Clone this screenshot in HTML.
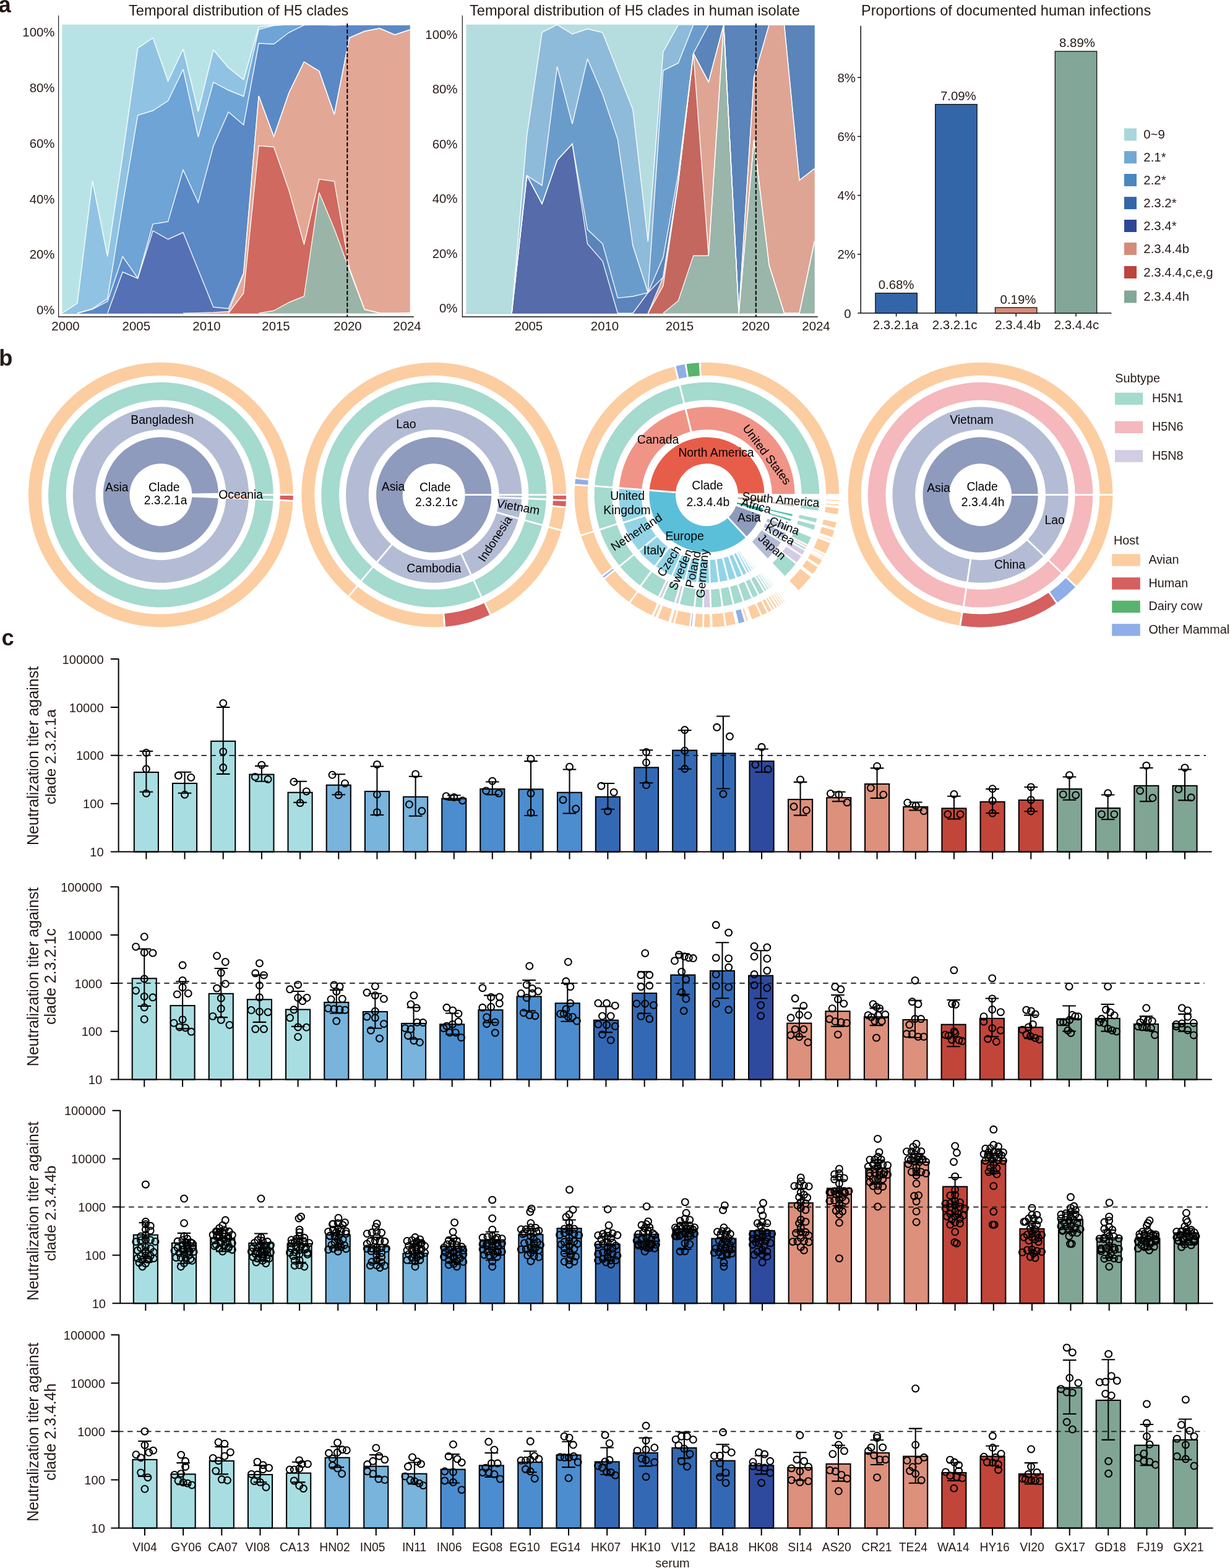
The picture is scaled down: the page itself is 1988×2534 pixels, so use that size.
<!DOCTYPE html>
<html><head><meta charset="utf-8"><title>Figure</title>
<style>
html,body{margin:0;padding:0;background:#fff}
svg{display:block}
text{font-family:"Liberation Sans",sans-serif}
</style></head><body>
<svg width="1988" height="2534" viewBox="0 0 1988 2534">
<rect width="1988" height="2534" fill="#fff"/>
<g>
<polygon points="100.5,506.25 124.94,506.25 149.37,506.25 173.81,506.25 198.24,506.25 222.68,506.25 247.11,506.25 271.54,506.25 295.98,506.25 320.41,506.25 344.85,506.25 369.28,506.25 393.72,506.25 418.15,506.25 442.59,502 467.02,488.75 491.46,478.75 515.89,311.25 540.33,370 564.76,436.25 589.2,500.5 613.63,506 638.07,506.25 662.5,505.5 662.5,506.25 638.07,506.25 613.63,506.25 589.2,506.25 564.76,506.25 540.33,506.25 515.89,506.25 491.46,506.25 467.02,506.25 442.59,506.25 418.15,506.25 393.72,506.25 369.28,506.25 344.85,506.25 320.41,506.25 295.98,506.25 271.54,506.25 247.11,506.25 222.68,506.25 198.24,506.25 173.81,506.25 149.37,506.25 124.94,506.25 100.5,506.25" fill="#9AB5A8" stroke="#9AB5A8" stroke-width="0.5"/>
<polygon points="100.5,506.25 124.94,506.25 149.37,506.25 173.81,506.25 198.24,506.25 222.68,506.25 247.11,506.25 271.54,506.25 295.98,506.25 320.41,506.25 344.85,506.25 369.28,506.25 393.72,473.75 418.15,235.5 442.59,237.5 467.02,307.5 491.46,395 515.89,289.5 540.33,293 564.76,433.5 589.2,500 613.63,505.75 638.07,506.25 662.5,505.5 662.5,505.5 638.07,506.25 613.63,506 589.2,500.5 564.76,436.25 540.33,370 515.89,311.25 491.46,478.75 467.02,488.75 442.59,502 418.15,506.25 393.72,506.25 369.28,506.25 344.85,506.25 320.41,506.25 295.98,506.25 271.54,506.25 247.11,506.25 222.68,506.25 198.24,506.25 173.81,506.25 149.37,506.25 124.94,506.25 100.5,506.25" fill="#D0695F" stroke="#D0695F" stroke-width="0.5"/>
<polygon points="100.5,506.25 124.94,506.25 149.37,506.25 173.81,506.25 198.24,506.25 222.68,506.25 247.11,506.25 271.54,506.25 295.98,506.25 320.41,505.8 344.85,505 369.28,503.5 393.72,442.5 418.15,155 442.59,220.75 467.02,150 491.46,100 515.89,115 540.33,185 564.76,61 589.2,50.5 613.63,45.75 638.07,56.25 662.5,48 662.5,505.5 638.07,506.25 613.63,505.75 589.2,500 564.76,433.5 540.33,293 515.89,289.5 491.46,395 467.02,307.5 442.59,237.5 418.15,235.5 393.72,473.75 369.28,506.25 344.85,506.25 320.41,506.25 295.98,506.25 271.54,506.25 247.11,506.25 222.68,506.25 198.24,506.25 173.81,506.25 149.37,506.25 124.94,506.25 100.5,506.25" fill="#E3A795" stroke="#E3A795" stroke-width="0.5"/>
<polygon points="100.5,506.25 124.94,506.25 149.37,506.25 173.81,506.25 198.24,439.5 222.68,450 247.11,373 271.54,386.75 295.98,375.75 320.41,436 344.85,496.25 369.28,498.75 393.72,441 418.15,155 442.59,220.75 467.02,150 491.46,100 515.89,115 540.33,185 564.76,61 589.2,50.5 613.63,45.75 638.07,56.25 662.5,48 662.5,48 638.07,56.25 613.63,45.75 589.2,50.5 564.76,61 540.33,185 515.89,115 491.46,100 467.02,150 442.59,220.75 418.15,155 393.72,442.5 369.28,503.5 344.85,505 320.41,505.8 295.98,506.25 271.54,506.25 247.11,506.25 222.68,506.25 198.24,506.25 173.81,506.25 149.37,506.25 124.94,506.25 100.5,506.25" fill="#5570B5" stroke="#5570B5" stroke-width="0.5"/>
<polygon points="100.5,506.25 124.94,506.25 149.37,499.8 173.81,487 198.24,414.5 222.68,449.3 247.11,362 271.54,358.25 295.98,274.5 320.41,327.5 344.85,236 369.28,181 393.72,202 418.15,70 442.59,71.25 467.02,52.5 491.46,40.6 515.89,40 540.33,40.8 564.76,39.9 589.2,39.9 613.63,39.9 638.07,39.9 662.5,39.9 662.5,48 638.07,56.25 613.63,45.75 589.2,50.5 564.76,61 540.33,185 515.89,115 491.46,100 467.02,150 442.59,220.75 418.15,155 393.72,441 369.28,498.75 344.85,496.25 320.41,436 295.98,375.75 271.54,386.75 247.11,373 222.68,450 198.24,439.5 173.81,506.25 149.37,506.25 124.94,506.25 100.5,506.25" fill="#5B89C6" stroke="#5B89C6" stroke-width="0.5"/>
<polygon points="100.5,506.25 124.94,506.25 149.37,498.8 173.81,482.5 198.24,331.5 222.68,186.25 247.11,178.75 271.54,163 295.98,112 320.41,221.25 344.85,133 369.28,145.75 393.72,155.75 418.15,47.5 442.59,41.25 467.02,39.9 491.46,39.9 515.89,39.9 540.33,39.9 564.76,39.9 589.2,39.9 613.63,39.9 638.07,39.9 662.5,39.9 662.5,39.9 638.07,39.9 613.63,39.9 589.2,39.9 564.76,39.9 540.33,40.8 515.89,40 491.46,40.6 467.02,52.5 442.59,71.25 418.15,70 393.72,202 369.28,181 344.85,236 320.41,327.5 295.98,274.5 271.54,358.25 247.11,362 222.68,449.3 198.24,414.5 173.81,487 149.37,499.8 124.94,506.25 100.5,506.25" fill="#6EA4D6" stroke="#6EA4D6" stroke-width="0.5"/>
<polygon points="100.5,506.25 124.94,490 149.37,292.5 173.81,414.5 198.24,251.7 222.68,78 247.11,61.25 271.54,131.25 295.98,79.25 320.41,180 344.85,80.75 369.28,109.5 393.72,128.75 418.15,43.75 442.59,40 467.02,39.9 491.46,39.9 515.89,39.9 540.33,39.9 564.76,39.9 589.2,39.9 613.63,39.9 638.07,39.9 662.5,39.9 662.5,39.9 638.07,39.9 613.63,39.9 589.2,39.9 564.76,39.9 540.33,39.9 515.89,39.9 491.46,39.9 467.02,39.9 442.59,41.25 418.15,47.5 393.72,155.75 369.28,145.75 344.85,133 320.41,221.25 295.98,112 271.54,163 247.11,178.75 222.68,186.25 198.24,331.5 173.81,482.5 149.37,498.8 124.94,506.25 100.5,506.25" fill="#90C3E3" stroke="#90C3E3" stroke-width="0.5"/>
<polygon points="100.5,39.9 124.94,39.9 149.37,39.9 173.81,39.9 198.24,39.9 222.68,39.9 247.11,39.9 271.54,39.9 295.98,39.9 320.41,39.9 344.85,39.9 369.28,39.9 393.72,39.9 418.15,39.9 442.59,39.9 467.02,39.9 491.46,39.9 515.89,39.9 540.33,39.9 564.76,39.9 589.2,39.9 613.63,39.9 638.07,39.9 662.5,39.9 662.5,39.9 638.07,39.9 613.63,39.9 589.2,39.9 564.76,39.9 540.33,39.9 515.89,39.9 491.46,39.9 467.02,39.9 442.59,40 418.15,43.75 393.72,128.75 369.28,109.5 344.85,80.75 320.41,180 295.98,79.25 271.54,131.25 247.11,61.25 222.68,78 198.24,251.7 173.81,414.5 149.37,292.5 124.94,490 100.5,506.25" fill="#B8E3E6" stroke="#B8E3E6" stroke-width="0.5"/>
</g>
<g stroke="#fff" stroke-width="1.4" stroke-opacity="0.92" stroke-linejoin="miter" stroke-miterlimit="3" fill="none">
<path d="M418.15 506.25L442.59 502L467.02 488.75L491.46 478.75L515.89 311.25L540.33 370L564.76 436.25L589.2 500.5L613.63 506L638.07 506.25L662.5 505.5"/>
<path d="M369.28 506.25L393.72 473.75L418.15 235.5L442.59 237.5L467.02 307.5L491.46 395L515.89 289.5L540.33 293L564.76 433.5L589.2 500L613.63 505.75L638.07 506.25L662.5 505.5"/>
<path d="M295.98 506.25L320.41 505.8L344.85 505L369.28 503.5L393.72 442.5L418.15 155L442.59 220.75L467.02 150L491.46 100L515.89 115L540.33 185L564.76 61L589.2 50.5L613.63 45.75L638.07 56.25L662.5 48"/>
<path d="M173.81 506.25L198.24 439.5L222.68 450L247.11 373L271.54 386.75L295.98 375.75L320.41 436L344.85 496.25L369.28 498.75L393.72 441L418.15 155L442.59 220.75L467.02 150L491.46 100L515.89 115L540.33 185L564.76 61L589.2 50.5L613.63 45.75L638.07 56.25L662.5 48"/>
<path d="M124.94 506.25L149.37 499.8L173.81 487L198.24 414.5L222.68 449.3L247.11 362L271.54 358.25L295.98 274.5L320.41 327.5L344.85 236L369.28 181L393.72 202L418.15 70L442.59 71.25L467.02 52.5L491.46 40.6L515.89 40L540.33 40.8L564.76 39.9L589.2 39.9L613.63 39.9L638.07 39.9L662.5 39.9"/>
<path d="M124.94 506.25L149.37 498.8L173.81 482.5L198.24 331.5L222.68 186.25L247.11 178.75L271.54 163L295.98 112L320.41 221.25L344.85 133L369.28 145.75L393.72 155.75L418.15 47.5L442.59 41.25L467.02 39.9L491.46 39.9L515.89 39.9L540.33 39.9L564.76 39.9L589.2 39.9L613.63 39.9L638.07 39.9L662.5 39.9"/>
<path d="M100.5 506.25L124.94 490L149.37 292.5L173.81 414.5L198.24 251.7L222.68 78L247.11 61.25L271.54 131.25L295.98 79.25L320.41 180L344.85 80.75L369.28 109.5L393.72 128.75L418.15 43.75L442.59 40L467.02 39.9L491.46 39.9L515.89 39.9L540.33 39.9L564.76 39.9L589.2 39.9L613.63 39.9L638.07 39.9L662.5 39.9"/>
</g>
<g>
<polygon points="753.7,506.25 778.17,506.25 802.64,506.25 827.11,506.25 851.58,506.25 876.05,506.25 900.52,506.25 924.99,506.25 949.46,506.25 973.93,506.25 998.4,506.25 1022.87,506.25 1047.34,506.25 1071.81,506.25 1096.28,486 1120.75,413.3 1145.22,413.3 1169.69,39.9 1194.16,506.25 1218.63,226.25 1243.1,428.75 1267.57,506.25 1292.04,506.25 1316.51,390 1316.51,506.25 1292.04,506.25 1267.57,506.25 1243.1,506.25 1218.63,506.25 1194.16,506.25 1169.69,506.25 1145.22,506.25 1120.75,506.25 1096.28,506.25 1071.81,506.25 1047.34,506.25 1022.87,506.25 998.4,506.25 973.93,506.25 949.46,506.25 924.99,506.25 900.52,506.25 876.05,506.25 851.58,506.25 827.11,506.25 802.64,506.25 778.17,506.25 753.7,506.25" fill="#9AB5A9" stroke="#9AB5A9" stroke-width="0.5"/>
<polygon points="753.7,506.25 778.17,506.25 802.64,506.25 827.11,506.25 851.58,506.25 876.05,506.25 900.52,506.25 924.99,506.25 949.46,506.25 973.93,506.25 998.4,506.25 1022.87,506.25 1047.34,506.25 1071.81,462 1096.28,296 1120.75,86.2 1145.22,413.3 1169.69,39.9 1194.16,506.25 1218.63,226.25 1243.1,428.75 1267.57,506.25 1292.04,506.25 1316.51,390 1316.51,390 1292.04,506.25 1267.57,506.25 1243.1,428.75 1218.63,226.25 1194.16,506.25 1169.69,39.9 1145.22,413.3 1120.75,413.3 1096.28,486 1071.81,506.25 1047.34,506.25 1022.87,506.25 998.4,506.25 973.93,506.25 949.46,506.25 924.99,506.25 900.52,506.25 876.05,506.25 851.58,506.25 827.11,506.25 802.64,506.25 778.17,506.25 753.7,506.25" fill="#C4675F" stroke="#C4675F" stroke-width="0.5"/>
<polygon points="753.7,506.25 778.17,506.25 802.64,506.25 827.11,506.25 851.58,506.25 876.05,506.25 900.52,506.25 924.99,506.25 949.46,506.25 973.93,506.25 998.4,506.25 1022.87,506.25 1047.34,506.25 1071.81,448 1096.28,294 1120.75,86.2 1145.22,132.5 1169.69,39.9 1194.16,506.25 1218.63,125 1243.1,39.9 1267.57,39.9 1292.04,291.25 1316.51,272.5 1316.51,390 1292.04,506.25 1267.57,506.25 1243.1,428.75 1218.63,226.25 1194.16,506.25 1169.69,39.9 1145.22,413.3 1120.75,86.2 1096.28,296 1071.81,462 1047.34,506.25 1022.87,506.25 998.4,506.25 973.93,506.25 949.46,506.25 924.99,506.25 900.52,506.25 876.05,506.25 851.58,506.25 827.11,506.25 802.64,506.25 778.17,506.25 753.7,506.25" fill="#DEA594" stroke="#DEA594" stroke-width="0.5"/>
<polygon points="753.7,506.25 778.17,506.25 802.64,506.25 827.11,506.25 851.58,283.6 876.05,329.5 900.52,259 924.99,232.6 949.46,394 973.93,422 998.4,506.25 1022.87,506.25 1047.34,473 1071.81,448 1096.28,293 1120.75,86.2 1145.22,132.5 1169.69,39.9 1194.16,506.25 1218.63,125 1243.1,39.9 1267.57,39.9 1292.04,291.25 1316.51,272.5 1316.51,272.5 1292.04,291.25 1267.57,39.9 1243.1,39.9 1218.63,125 1194.16,506.25 1169.69,39.9 1145.22,132.5 1120.75,86.2 1096.28,294 1071.81,448 1047.34,506.25 1022.87,506.25 998.4,506.25 973.93,506.25 949.46,506.25 924.99,506.25 900.52,506.25 876.05,506.25 851.58,506.25 827.11,506.25 802.64,506.25 778.17,506.25 753.7,506.25" fill="#566BAA" stroke="#566BAA" stroke-width="0.5"/>
<polygon points="753.7,506.25 778.17,506.25 802.64,506.25 827.11,506.25 851.58,283.6 876.05,329.5 900.52,259 924.99,232.6 949.46,370.8 973.93,394 998.4,481.6 1022.87,479 1047.34,473 1071.81,416 1096.28,281 1120.75,86.2 1145.22,39.9 1169.69,39.9 1194.16,39.9 1218.63,39.9 1243.1,39.9 1267.57,39.9 1292.04,39.9 1316.51,39.9 1316.51,272.5 1292.04,291.25 1267.57,39.9 1243.1,39.9 1218.63,125 1194.16,506.25 1169.69,39.9 1145.22,132.5 1120.75,86.2 1096.28,293 1071.81,448 1047.34,473 1022.87,506.25 998.4,506.25 973.93,422 949.46,394 924.99,232.6 900.52,259 876.05,329.5 851.58,283.6 827.11,506.25 802.64,506.25 778.17,506.25 753.7,506.25" fill="#5A84BA" stroke="#5A84BA" stroke-width="0.5"/>
<polygon points="753.7,506.25 778.17,506.25 802.64,506.25 827.11,506.25 851.58,283.6 876.05,299.7 900.52,107.5 924.99,200.4 949.46,95 973.93,152.5 998.4,225.3 1022.87,397 1047.34,473 1071.81,114 1096.28,102 1120.75,39.9 1145.22,39.9 1169.69,39.9 1194.16,39.9 1218.63,39.9 1243.1,39.9 1267.57,39.9 1292.04,39.9 1316.51,39.9 1316.51,39.9 1292.04,39.9 1267.57,39.9 1243.1,39.9 1218.63,39.9 1194.16,39.9 1169.69,39.9 1145.22,39.9 1120.75,86.2 1096.28,281 1071.81,416 1047.34,473 1022.87,479 998.4,481.6 973.93,394 949.46,370.8 924.99,232.6 900.52,259 876.05,329.5 851.58,283.6 827.11,506.25 802.64,506.25 778.17,506.25 753.7,506.25" fill="#6A9CCB" stroke="#6A9CCB" stroke-width="0.5"/>
<polygon points="753.7,506.25 778.17,506.25 802.64,506.25 827.11,506.25 851.58,219.5 876.05,52.5 900.52,39.9 924.99,55 949.46,46.75 973.93,52.5 998.4,115 1022.87,177 1047.34,390.5 1071.81,84 1096.28,39.9 1120.75,39.9 1145.22,39.9 1169.69,39.9 1194.16,39.9 1218.63,39.9 1243.1,39.9 1267.57,39.9 1292.04,39.9 1316.51,39.9 1316.51,39.9 1292.04,39.9 1267.57,39.9 1243.1,39.9 1218.63,39.9 1194.16,39.9 1169.69,39.9 1145.22,39.9 1120.75,39.9 1096.28,102 1071.81,114 1047.34,473 1022.87,397 998.4,225.3 973.93,152.5 949.46,95 924.99,200.4 900.52,107.5 876.05,299.7 851.58,283.6 827.11,506.25 802.64,506.25 778.17,506.25 753.7,506.25" fill="#8FBBDA" stroke="#8FBBDA" stroke-width="0.5"/>
<polygon points="753.7,39.9 778.17,39.9 802.64,39.9 827.11,39.9 851.58,39.9 876.05,39.9 900.52,39.9 924.99,39.9 949.46,39.9 973.93,39.9 998.4,39.9 1022.87,39.9 1047.34,39.9 1071.81,39.9 1096.28,39.9 1120.75,39.9 1145.22,39.9 1169.69,39.9 1194.16,39.9 1218.63,39.9 1243.1,39.9 1267.57,39.9 1292.04,39.9 1316.51,39.9 1316.51,39.9 1292.04,39.9 1267.57,39.9 1243.1,39.9 1218.63,39.9 1194.16,39.9 1169.69,39.9 1145.22,39.9 1120.75,39.9 1096.28,39.9 1071.81,84 1047.34,390.5 1022.87,177 998.4,115 973.93,52.5 949.46,46.75 924.99,55 900.52,39.9 876.05,52.5 851.58,219.5 827.11,506.25 802.64,506.25 778.17,506.25 753.7,506.25" fill="#B5DDE0" stroke="#B5DDE0" stroke-width="0.5"/>
</g>
<g stroke="#fff" stroke-width="1.4" stroke-opacity="0.92" stroke-linejoin="miter" stroke-miterlimit="3" fill="none">
<path d="M1071.81 506.25L1096.28 486L1120.75 413.3L1145.22 413.3L1169.69 39.9L1194.16 506.25L1218.63 226.25L1243.1 428.75L1267.57 506.25L1292.04 506.25L1316.51 390"/>
<path d="M1047.34 506.25L1071.81 462L1096.28 296L1120.75 86.2L1145.22 413.3L1169.69 39.9L1194.16 506.25L1218.63 226.25L1243.1 428.75L1267.57 506.25L1292.04 506.25L1316.51 390"/>
<path d="M1047.34 506.25L1071.81 448L1096.28 294L1120.75 86.2L1145.22 132.5L1169.69 39.9L1194.16 506.25L1218.63 125L1243.1 39.9L1267.57 39.9L1292.04 291.25L1316.51 272.5"/>
<path d="M827.11 506.25L851.58 283.6L876.05 329.5L900.52 259L924.99 232.6L949.46 394L973.93 422L998.4 506.25L1022.87 506.25L1047.34 473L1071.81 448L1096.28 293L1120.75 86.2L1145.22 132.5L1169.69 39.9L1194.16 506.25L1218.63 125L1243.1 39.9L1267.57 39.9L1292.04 291.25L1316.51 272.5"/>
<path d="M827.11 506.25L851.58 283.6L876.05 329.5L900.52 259L924.99 232.6L949.46 370.8L973.93 394L998.4 481.6L1022.87 479L1047.34 473L1071.81 416L1096.28 281L1120.75 86.2L1145.22 39.9L1169.69 39.9L1194.16 39.9L1218.63 39.9L1243.1 39.9L1267.57 39.9L1292.04 39.9L1316.51 39.9"/>
<path d="M827.11 506.25L851.58 283.6L876.05 299.7L900.52 107.5L924.99 200.4L949.46 95L973.93 152.5L998.4 225.3L1022.87 397L1047.34 473L1071.81 114L1096.28 102L1120.75 39.9L1145.22 39.9L1169.69 39.9L1194.16 39.9L1218.63 39.9L1243.1 39.9L1267.57 39.9L1292.04 39.9L1316.51 39.9"/>
<path d="M827.11 506.25L851.58 219.5L876.05 52.5L900.52 39.9L924.99 55L949.46 46.75L973.93 52.5L998.4 115L1022.87 177L1047.34 390.5L1071.81 84L1096.28 39.9L1120.75 39.9L1145.22 39.9L1169.69 39.9L1194.16 39.9L1218.63 39.9L1243.1 39.9L1267.57 39.9L1292.04 39.9L1316.51 39.9"/>
</g>
<path d="M94.6 25V512M747.3 25V512" stroke="#222" stroke-width="1.25" fill="none"/>
<path d="M94 512H668.8M746.7 512H1321.8" stroke="#111" stroke-width="1.7" fill="none"/>
<path d="M561.3 38V512" stroke="#000" stroke-width="2" stroke-dasharray="6.6 3" fill="none"/>
<path d="M1221.8 38V512" stroke="#000" stroke-width="2" stroke-dasharray="6.6 3" fill="none"/>
<g font-size="20.4" fill="#231815" text-anchor="end"><text x="88.5" y="508.2">0%</text><text x="739.5" y="505.3">0%</text><text x="88.5" y="418.44">20%</text><text x="739.5" y="416.75">20%</text><text x="88.5" y="328.68">40%</text><text x="739.5" y="328.2">40%</text><text x="88.5" y="238.92">60%</text><text x="739.5" y="239.65">60%</text><text x="88.5" y="149.16">80%</text><text x="739.5" y="151.1">80%</text><text x="88.5" y="59.4">100%</text><text x="739.5" y="62.55">100%</text></g>
<g font-size="20.4" fill="#231815" text-anchor="middle"><text x="106" y="534">2000</text><text x="220.3" y="534">2005</text><text x="334" y="534">2010</text><text x="446" y="534">2015</text><text x="562" y="534">2020</text><text x="658" y="534">2024</text><text x="854.5" y="534">2005</text><text x="977.5" y="534">2010</text><text x="1098.5" y="534">2015</text><text x="1221.5" y="534">2020</text><text x="1319" y="534">2024</text></g>
<g font-size="23.6" fill="#231815">
<text x="208" y="24.6">Temporal distribution of H5 clades</text>
<text x="759" y="24.6">Temporal distribution of H5 clades in human isolate</text>
<text x="1392" y="24.6">Proportions of documented human infections</text>
</g>
<path d="M1391.2 41.7V506.1 M1386.3 506.1H1796.4" stroke="#111" stroke-width="1.5" fill="none"/>
<path d="M1386 410.9H1391.2M1386 315.7H1391.2M1386 220.5H1391.2M1386 125.3H1391.2M1448.6 506.1v5.5M1545.4 506.1v5.5M1642.2 506.1v5.5M1739 506.1v5.5" stroke="#111" stroke-width="1.5" fill="none"/>
<rect x="1414.9" y="473.73" width="67.4" height="32.37" fill="#3366A9" stroke="#111" stroke-width="1.3"/>
<rect x="1511.7" y="168.62" width="67.4" height="337.48" fill="#3366A9" stroke="#111" stroke-width="1.3"/>
<rect x="1608.5" y="497.06" width="67.4" height="9.04" fill="#D68B7A" stroke="#111" stroke-width="1.3"/>
<rect x="1705.3" y="82.94" width="67.4" height="423.16" fill="#82A697" stroke="#111" stroke-width="1.3"/>
<g font-size="20.4" fill="#231815" text-anchor="middle"><text x="1448.6" y="467.23">0.68%</text><text x="1447.6" y="532.4">2.3.2.1a</text><text x="1548.8" y="162.12">7.09%</text><text x="1543.1" y="532.4">2.3.2.1c</text><text x="1645.5" y="490.56">0.19%</text><text x="1645.2" y="532.4">2.3.4.4b</text><text x="1741" y="76.44">8.89%</text><text x="1740" y="532.4">2.3.4.4c</text></g><g font-size="20.4" fill="#231815" text-anchor="end"><text x="1375.5" y="514.3">0</text><text x="1383" y="418.2">2%</text><text x="1383" y="323">4%</text><text x="1383" y="227.8">6%</text><text x="1383" y="132.6">8%</text></g>
<g font-size="20.4" fill="#231815"><rect x="1817" y="207.4" width="20" height="20" fill="#A8D8DC"/><text x="1848.3" y="223.9">0~9</text><rect x="1817" y="244.2" width="20" height="20" fill="#72A9D3"/><text x="1848.3" y="260.7">2.1*</text><rect x="1817" y="281" width="20" height="20" fill="#4A86C0"/><text x="1848.3" y="297.5">2.2*</text><rect x="1817" y="318.1" width="20" height="20" fill="#3366A9"/><text x="1848.3" y="334.6">2.3.2*</text><rect x="1817" y="355" width="20" height="20" fill="#2E4795"/><text x="1848.3" y="371.5">2.3.4*</text><rect x="1817" y="392" width="20" height="20" fill="#D68B7A"/><text x="1848.3" y="408.5">2.3.4.4b</text><rect x="1817" y="430" width="20" height="20" fill="#BC443C"/><text x="1848.3" y="446.5">2.3.4.4,c,e,g</text><rect x="1817" y="469.5" width="20" height="20" fill="#82A697"/><text x="1848.3" y="486">2.3.4.4h</text></g>
<g font-weight="bold" font-size="36.3" fill="#231815"><text x="-2.5" y="19.6">a</text><text x="-1.8" y="590.6">b</text><text x="2.4" y="1042.7">c</text></g>
<path d="M310.27 803.39A50.5 50.5 0 1 1 310.35 797.42L352.95 796.68A93.1 93.1 0 1 0 352.83 805.32Z" fill="#8E9BBD"/>
<path d="M365.29 801.1A105.4 105.4 0 0 1 365.25 803.08L401.91 804.75A142.1 142.1 0 0 0 401.99 801.1Z" fill="#F3B9A6"/>
<path d="M365.12 805.88A105.4 105.4 0 1 1 365.29 798.3L401.99 798.3A142.1 142.1 0 1 0 401.78 807.54Z" fill="#B3BCD4"/>
<path d="M412.99 801.1A153.1 153.1 0 0 1 412.9 805.25L441.62 806.55A181.85 181.85 0 0 0 441.74 801.1Z" fill="#A5DACE"/>
<path d="M412.77 808.04A153.1 153.1 0 1 1 412.99 798.3L441.74 798.3A181.85 181.85 0 1 0 441.49 809.35Z" fill="#A5DACE"/>
<path d="M452.74 801.1A192.85 192.85 0 0 1 452.61 807.05L473.64 808A213.9 213.9 0 0 0 473.8 801.1Z" fill="#D65F5F"/>
<path d="M452.48 809.85A192.85 192.85 0 1 1 452.74 798.3L473.8 798.3A213.9 213.9 0 1 0 473.51 810.8Z" fill="#FCCDA0"/>
<path d="M751.68 801.1A50.5 50.5 0 1 1 751.68 798.3L794.29 798.3A93.1 93.1 0 1 0 794.29 801.1Z" fill="#8E9BBD"/>
<path d="M806.59 801.1A105.4 105.4 0 0 1 806.56 802.53L843.23 804A142.1 142.1 0 0 0 843.29 801.1Z" fill="#B3BCD4"/>
<path d="M806.45 805.33A105.4 105.4 0 0 1 803.08 826.69L838.44 836.56A142.1 142.1 0 0 0 843.12 806.8Z" fill="#B3BCD4"/>
<path d="M802.33 829.39A105.4 105.4 0 0 1 747.01 894.62L762.52 927.89A142.1 142.1 0 0 0 837.68 839.26Z" fill="#B3BCD4"/>
<path d="M744.47 895.81A105.4 105.4 0 0 1 634.24 881.1L610.55 909.13A142.1 142.1 0 0 0 759.98 929.07Z" fill="#B3BCD4"/>
<path d="M632.11 879.29A105.4 105.4 0 1 1 806.59 798.3L843.29 798.3A142.1 142.1 0 1 0 608.42 907.33Z" fill="#B3BCD4"/>
<path d="M854.29 801.1A153.1 153.1 0 0 1 854.23 804.45L882.95 805.6A181.85 181.85 0 0 0 883.04 801.1Z" fill="#A5DACE"/>
<path d="M854.11 807.24A153.1 153.1 0 0 1 849.03 839.52L876.72 847.25A181.85 181.85 0 0 0 882.84 808.4Z" fill="#A5DACE"/>
<path d="M848.28 842.22A153.1 153.1 0 0 1 767.17 937.86L779.32 963.92A181.85 181.85 0 0 0 875.97 849.95Z" fill="#A5DACE"/>
<path d="M764.63 939.04A153.1 153.1 0 0 1 603.45 917.54L584.9 939.5A181.85 181.85 0 0 0 776.78 965.1Z" fill="#A5DACE"/>
<path d="M601.32 915.73A153.1 153.1 0 1 1 854.29 798.3L883.04 798.3A181.85 181.85 0 1 0 582.76 937.69Z" fill="#A5DACE"/>
<path d="M894.04 801.1A192.85 192.85 0 0 1 893.93 806.38L914.97 807.26A213.9 213.9 0 0 0 915.1 801.1Z" fill="#D65F5F"/>
<path d="M893.82 809.17A192.85 192.85 0 0 1 893.32 816.45L914.28 818.44A213.9 213.9 0 0 0 914.85 810.06Z" fill="#D65F5F"/>
<path d="M893.06 819.24A192.85 192.85 0 0 1 887.32 850.21L907.59 855.87A213.9 213.9 0 0 0 914.01 821.22Z" fill="#FCCDA0"/>
<path d="M886.56 852.91A192.85 192.85 0 0 1 784.88 973.45L793.88 992.48A213.9 213.9 0 0 0 906.84 858.57Z" fill="#FCCDA0"/>
<path d="M782.35 974.65A192.85 192.85 0 0 1 718.4 991.78L720.12 1012.76A213.9 213.9 0 0 0 791.34 993.68Z" fill="#D65F5F"/>
<path d="M715.61 992.01A192.85 192.85 0 0 1 578.31 948.33L564.78 964.45A213.9 213.9 0 0 0 717.33 1012.99Z" fill="#FCCDA0"/>
<path d="M576.17 946.53A192.85 192.85 0 1 1 894.04 798.3L915.1 798.3A213.9 213.9 0 1 0 562.64 962.65Z" fill="#FCCDA0"/>
<path d="M1635.08 801.1A50.5 50.5 0 1 1 1635.08 798.3L1677.69 798.3A93.1 93.1 0 1 0 1677.69 801.1Z" fill="#8E9BBD"/>
<path d="M1689.99 801.1A105.4 105.4 0 0 1 1661.64 871.63L1688.13 897.04A142.1 142.1 0 0 0 1726.69 801.1Z" fill="#B3BCD4"/>
<path d="M1659.7 873.66A105.4 105.4 0 0 1 1570.22 904.12L1564.74 940.4A142.1 142.1 0 0 0 1686.19 899.06Z" fill="#B3BCD4"/>
<path d="M1567.46 903.7A105.4 105.4 0 1 1 1689.99 798.3L1726.69 798.3A142.1 142.1 0 1 0 1561.97 939.99Z" fill="#B3BCD4"/>
<path d="M1737.69 801.1A153.1 153.1 0 0 1 1696.07 904.65L1716.82 924.55A181.85 181.85 0 0 0 1766.44 801.1Z" fill="#F5B8BC"/>
<path d="M1694.13 906.67A153.1 153.1 0 0 1 1563.09 951.28L1558.79 979.71A181.85 181.85 0 0 0 1714.88 926.57Z" fill="#F5B8BC"/>
<path d="M1560.32 950.86A153.1 153.1 0 1 1 1737.69 798.3L1766.44 798.3A181.85 181.85 0 1 0 1556.02 979.29Z" fill="#F5B8BC"/>
<path d="M1777.44 801.1A192.85 192.85 0 0 1 1724.76 932.17L1739.95 946.74A213.9 213.9 0 0 0 1798.5 801.1Z" fill="#FCCDA0"/>
<path d="M1722.82 934.19A192.85 192.85 0 0 1 1696.91 956.48L1709.04 973.68A213.9 213.9 0 0 0 1738.01 948.76Z" fill="#8FAEE8"/>
<path d="M1694.62 958.09A192.85 192.85 0 0 1 1556.48 990.49L1553.26 1011.29A213.9 213.9 0 0 0 1706.75 975.29Z" fill="#D65F5F"/>
<path d="M1553.71 990.06A192.85 192.85 0 1 1 1777.44 798.3L1798.5 798.3A213.9 213.9 0 1 0 1550.49 1010.86Z" fill="#FCCDA0"/>
<path d="M1192.74 803.74A50.5 50.5 0 0 1 1192.54 805.69L1234.7 811.91A93.1 93.1 0 0 0 1235.29 805.97Z" fill="#B5A18C"/>
<path d="M1191.36 812.08A50.5 50.5 0 0 1 1190.84 813.97L1231.37 827.13A93.1 93.1 0 0 0 1232.94 821.37Z" fill="#1FA890"/>
<path d="M1189.52 817.87A50.5 50.5 0 0 1 1177.85 835.66L1206.91 866.83A93.1 93.1 0 0 0 1229.68 832.09Z" fill="#8E9BBD"/>
<path d="M1175.8 837.57A50.5 50.5 0 0 1 1091.97 797.05L1049.5 793.63A93.1 93.1 0 0 0 1204.86 868.74Z" fill="#5BBFD9"/>
<path d="M1092.19 794.26A50.5 50.5 0 0 1 1192.85 797.42L1235.45 796.68A93.1 93.1 0 0 0 1049.72 790.84Z" fill="#E85D4A"/>
<path d="M1247.21 810.83A105.4 105.4 0 0 1 1246.91 813.35L1283.24 818.58A142.1 142.1 0 0 0 1283.76 814.22Z" fill="#CFC3B4"/>
<path d="M1245.11 823.34A105.4 105.4 0 0 1 1244.74 824.91L1280.26 834.16A142.1 142.1 0 0 0 1280.99 831.1Z" fill="#5CC2B0"/>
<path d="M1243.58 829.21A105.4 105.4 0 0 1 1243.12 830.76L1278.05 842.04A142.1 142.1 0 0 0 1278.95 839.02Z" fill="#5CC2B0"/>
<path d="M1240.56 838.09A105.4 105.4 0 0 1 1238.66 842.64L1271.98 858.03A142.1 142.1 0 0 0 1274.92 851Z" fill="#B3BCD4"/>
<path d="M1237.08 846.01A105.4 105.4 0 0 1 1234.19 851.5L1265.91 869.97A142.1 142.1 0 0 0 1270.27 861.69Z" fill="#B3BCD4"/>
<path d="M1232.78 853.92A105.4 105.4 0 0 1 1232.33 854.68L1263.38 874.23A142.1 142.1 0 0 0 1264.5 872.39Z" fill="#B3BCD4"/>
<path d="M1230.83 857.04A105.4 105.4 0 0 1 1215.7 875.44L1240.87 902.15A142.1 142.1 0 0 0 1261.89 876.6Z" fill="#B3BCD4"/>
<path d="M1217.74 910.15L1222.4 917.14A142.1 142.1 0 0 0 1222.55 917.04Z" fill="#92D4E6"/>
<path d="M1209.71 903.15L1219.72 918.92A142.1 142.1 0 0 0 1220.07 918.69Z" fill="#92D4E6"/>
<path d="M1202.62 897.21L1216.78 920.78A142.1 142.1 0 0 0 1217.36 920.42Z" fill="#92D4E6"/>
<path d="M1195.48 890.76A105.4 105.4 0 0 1 1195.2 890.92L1213.16 922.93A142.1 142.1 0 0 0 1214.38 922.22Z" fill="#92D4E6"/>
<path d="M1192.76 892.29A105.4 105.4 0 0 1 1191.98 892.71L1208.82 925.32A142.1 142.1 0 0 0 1210.72 924.3Z" fill="#92D4E6"/>
<path d="M1189.49 893.99A105.4 105.4 0 0 1 1186.55 895.41L1201.47 928.94A142.1 142.1 0 0 0 1206.33 926.61Z" fill="#92D4E6"/>
<path d="M1183.99 896.55A105.4 105.4 0 0 1 1179.07 898.51L1191.38 933.09A142.1 142.1 0 0 0 1198.92 930.08Z" fill="#92D4E6"/>
<path d="M1176.43 899.45A105.4 105.4 0 0 1 1169.61 901.53L1178.61 937.11A142.1 142.1 0 0 0 1188.75 934.03Z" fill="#92D4E6"/>
<path d="M1166.9 902.21A105.4 105.4 0 0 1 1158.45 903.87L1163.56 940.22A142.1 142.1 0 0 0 1175.9 937.79Z" fill="#92D4E6"/>
<path d="M1155.68 904.26A105.4 105.4 0 0 1 1147.48 904.98L1148.76 941.66A142.1 142.1 0 0 0 1160.79 940.61Z" fill="#92D4E6"/>
<path d="M1144.68 905.08A105.4 105.4 0 0 1 1132.23 904.61L1128.2 941.09A142.1 142.1 0 0 0 1145.96 941.76Z" fill="#92D4E6"/>
<path d="M1129.44 904.3A105.4 105.4 0 0 1 1117.9 902.21L1108.9 937.79A142.1 142.1 0 0 0 1125.42 940.78Z" fill="#92D4E6"/>
<path d="M1115.19 901.53A105.4 105.4 0 0 1 1102 897.05L1087.48 930.76A142.1 142.1 0 0 0 1106.19 937.11Z" fill="#92D4E6"/>
<path d="M1099.43 895.94A105.4 105.4 0 0 1 1081.74 885.89L1060.21 915.62A142.1 142.1 0 0 0 1084.91 929.65Z" fill="#92D4E6"/>
<path d="M1079.47 884.25A105.4 105.4 0 0 1 1061.97 867.82L1033.65 891.16A142.1 142.1 0 0 0 1057.95 913.98Z" fill="#92D4E6"/>
<path d="M1060.19 865.66A105.4 105.4 0 0 1 1042.9 834.47L1008.09 846.11A142.1 142.1 0 0 0 1031.87 889Z" fill="#92D4E6"/>
<path d="M1042.01 831.81A105.4 105.4 0 0 1 1037.22 792.83L1000.64 789.95A142.1 142.1 0 0 0 1007.21 843.46Z" fill="#92D4E6"/>
<path d="M1037.44 790.04A105.4 105.4 0 0 1 1115.72 697.73L1106.91 662.1A142.1 142.1 0 0 0 1000.85 787.16Z" fill="#F09488"/>
<path d="M1118.44 697.06A105.4 105.4 0 0 1 1247.79 798.3L1284.49 798.3A142.1 142.1 0 0 0 1109.62 661.43Z" fill="#F09488"/>
<path d="M1295.36 806.18A153.1 153.1 0 0 1 1295.29 807.65L1323.99 809.4A181.85 181.85 0 0 0 1324.1 807.13Z" fill="#A5DACE"/>
<path d="M1294.71 815.24A153.1 153.1 0 0 1 1294.02 820.94L1322.45 825.19A181.85 181.85 0 0 0 1323.34 817.89Z" fill="#A5DACE"/>
<path d="M1292.03 832.12A153.1 153.1 0 0 1 1290.9 836.94L1318.73 844.18A181.85 181.85 0 0 0 1320.18 837.95Z" fill="#A5DACE"/>
<path d="M1289.77 841.19A153.1 153.1 0 0 1 1288.03 846.95L1315.29 856.07A181.85 181.85 0 0 0 1317.52 848.73Z" fill="#A5DACE"/>
<path d="M1284.13 857.61A153.1 153.1 0 0 1 1279.92 867L1305.62 879.87A181.85 181.85 0 0 0 1310.84 868.24Z" fill="#A5DACE"/>
<path d="M1278.66 869.5A153.1 153.1 0 0 1 1278.48 869.86L1303.91 883.27A181.85 181.85 0 0 0 1304.37 882.37Z" fill="#F0A0B0"/>
<path d="M1277.17 872.34A153.1 153.1 0 0 1 1276.46 873.63L1301.51 887.75A181.85 181.85 0 0 0 1302.6 885.75Z" fill="#A5DACE"/>
<path d="M1275.22 875.84A153.1 153.1 0 0 1 1272.27 880.78L1296.52 896.22A181.85 181.85 0 0 0 1300.3 889.91Z" fill="#D2CCE4"/>
<path d="M1270.62 883.36A153.1 153.1 0 0 1 1264.87 891.57L1287.71 909.04A181.85 181.85 0 0 0 1294.84 898.85Z" fill="#D2CCE4"/>
<path d="M1263.17 893.8A153.1 153.1 0 0 1 1248.8 909.79L1268.59 930.64A181.85 181.85 0 0 0 1286.01 911.26Z" fill="#A5DACE"/>
<path d="M1250.8 941.22L1252.95 944.09A181.85 181.85 0 0 0 1253 944.05Z" fill="#A5DACE"/>
<path d="M1237.83 928.67L1250.42 945.99A181.85 181.85 0 0 0 1250.72 945.77Z" fill="#A5DACE"/>
<path d="M1231.25 924.38A153.1 153.1 0 0 1 1231.14 924.46L1247.59 948.04A181.85 181.85 0 0 0 1248.15 947.64Z" fill="#A5DACE"/>
<path d="M1228.84 926.06A153.1 153.1 0 0 1 1228.51 926.29L1244.46 950.21A181.85 181.85 0 0 0 1245.29 949.64Z" fill="#A5DACE"/>
<path d="M1226.18 927.84A153.1 153.1 0 0 1 1225.61 928.21L1241.02 952.49A181.85 181.85 0 0 0 1242.13 951.76Z" fill="#A5DACE"/>
<path d="M1223.25 929.71A153.1 153.1 0 0 1 1221.99 930.48L1236.71 955.18A181.85 181.85 0 0 0 1238.66 953.99Z" fill="#A5DACE"/>
<path d="M1219.59 931.92A153.1 153.1 0 0 1 1214.1 934.97L1227.33 960.5A181.85 181.85 0 0 0 1234.31 956.61Z" fill="#A5DACE"/>
<path d="M1211.61 936.26A153.1 153.1 0 0 1 1205.46 939.21L1217.06 965.52A181.85 181.85 0 0 0 1224.84 961.79Z" fill="#A5DACE"/>
<path d="M1202.9 940.34A153.1 153.1 0 0 1 1193.57 944L1202.93 971.18A181.85 181.85 0 0 0 1214.5 966.65Z" fill="#A5DACE"/>
<path d="M1190.92 944.91A153.1 153.1 0 0 1 1180.02 948.11L1186.83 976.04A181.85 181.85 0 0 0 1200.28 972.09Z" fill="#A5DACE"/>
<path d="M1177.3 948.77A153.1 153.1 0 0 1 1165.09 951.11L1169.09 979.58A181.85 181.85 0 0 0 1184.11 976.7Z" fill="#A5DACE"/>
<path d="M1162.32 951.5A153.1 153.1 0 0 1 1149.14 952.65L1150.15 981.38A181.85 181.85 0 0 0 1166.32 979.97Z" fill="#A5DACE"/>
<path d="M1146.34 952.75A153.1 153.1 0 0 1 1138.72 952.76L1137.77 981.49A181.85 181.85 0 0 0 1147.35 981.48Z" fill="#D2CCE4"/>
<path d="M1135.92 952.66A153.1 153.1 0 0 1 1126.99 952.02L1123.84 980.6A181.85 181.85 0 0 0 1134.97 981.4Z" fill="#A5DACE"/>
<path d="M1124.21 951.72A153.1 153.1 0 0 1 1105.94 948.4L1098.84 976.26A181.85 181.85 0 0 0 1121.05 980.29Z" fill="#A5DACE"/>
<path d="M1103.23 947.7A153.1 153.1 0 0 1 1100.52 946.96L1092.4 974.54A181.85 181.85 0 0 0 1096.13 975.56Z" fill="#D2CCE4"/>
<path d="M1097.83 946.17A153.1 153.1 0 0 1 1083.13 940.86L1071.76 967.27A181.85 181.85 0 0 0 1089.71 973.75Z" fill="#A5DACE"/>
<path d="M1080.56 939.75A153.1 153.1 0 0 1 1078.48 938.82L1066.24 964.83A181.85 181.85 0 0 0 1069.19 966.16Z" fill="#D2CCE4"/>
<path d="M1075.95 937.63A153.1 153.1 0 0 1 1053.55 924.38L1036.65 947.64A181.85 181.85 0 0 0 1063.71 963.64Z" fill="#A5DACE"/>
<path d="M1051.28 922.73A153.1 153.1 0 0 1 1024.82 897.75L1002.57 915.96A181.85 181.85 0 0 0 1034.38 945.99Z" fill="#A5DACE"/>
<path d="M1023.04 895.58A153.1 153.1 0 0 1 997.23 848.34L969.89 857.22A181.85 181.85 0 0 0 1000.79 913.79Z" fill="#A5DACE"/>
<path d="M996.37 845.68A153.1 153.1 0 0 1 989.67 789.08L961.01 786.83A181.85 181.85 0 0 0 969.02 854.56Z" fill="#A5DACE"/>
<path d="M989.89 786.29A153.1 153.1 0 0 1 1104.26 651.43L1097.36 623.52A181.85 181.85 0 0 0 961.23 784.04Z" fill="#A5DACE"/>
<path d="M1106.98 650.75A153.1 153.1 0 0 1 1295.49 798.3L1324.24 798.3A181.85 181.85 0 0 0 1100.07 622.84Z" fill="#A5DACE"/>
<path d="M1335.09 807.49A192.85 192.85 0 0 1 1335.05 808.39L1356.08 809.5A213.9 213.9 0 0 0 1356.13 808.19Z" fill="#FCCDA0"/>
<path d="M1334.73 813.88A192.85 192.85 0 0 1 1334.63 815.11L1355.6 816.95A213.9 213.9 0 0 0 1355.73 815.27Z" fill="#FCCDA0"/>
<path d="M1334.26 819.24A192.85 192.85 0 0 1 1333.19 827.82L1353.99 831.04A213.9 213.9 0 0 0 1355.21 821.22Z" fill="#FCCDA0"/>
<path d="M1331.02 839.85A192.85 192.85 0 0 1 1329.2 847.61L1349.56 852.99A213.9 213.9 0 0 0 1351.65 844.08Z" fill="#FCCDA0"/>
<path d="M1328.13 851.61A192.85 192.85 0 0 1 1325.19 861.16L1345.1 868.01A213.9 213.9 0 0 0 1348.45 857.13Z" fill="#FCCDA0"/>
<path d="M1323.6 865.71A192.85 192.85 0 0 1 1323.41 866.24L1343.11 873.65A213.9 213.9 0 0 0 1343.43 872.77Z" fill="#FCCDA0"/>
<path d="M1321.93 870.12A192.85 192.85 0 0 1 1315.31 885.1L1334.12 894.56A213.9 213.9 0 0 0 1341.59 877.66Z" fill="#FCCDA0"/>
<path d="M1313.9 887.9A192.85 192.85 0 0 1 1313.64 888.4L1332.26 898.22A213.9 213.9 0 0 0 1332.69 897.39Z" fill="#FCCDA0"/>
<path d="M1312.33 890.88A192.85 192.85 0 0 1 1312.23 891.08L1330.69 901.19A213.9 213.9 0 0 0 1330.95 900.7Z" fill="#FCCDA0"/>
<path d="M1310.88 893.54A192.85 192.85 0 0 1 1310.77 893.74L1329.07 904.13A213.9 213.9 0 0 0 1329.35 903.65Z" fill="#FCCDA0"/>
<path d="M1310.06 895A192.85 192.85 0 0 1 1305.97 901.85L1323.75 913.13A213.9 213.9 0 0 0 1328.43 905.27Z" fill="#FCCDA0"/>
<path d="M1303.74 905.34A192.85 192.85 0 0 1 1297.05 914.91L1313.84 927.61A213.9 213.9 0 0 0 1321.43 916.75Z" fill="#FCCDA0"/>
<path d="M1293.71 919.27A192.85 192.85 0 0 1 1276.16 938.62L1290.65 953.89A213.9 213.9 0 0 0 1310.32 932.2Z" fill="#FCCDA0"/>
<path d="M1255.98 955.55A192.85 192.85 0 0 1 1255.8 955.69L1268.05 972.8A213.9 213.9 0 0 0 1268.5 972.47Z" fill="#FCCDA0"/>
<path d="M1253.52 957.32A192.85 192.85 0 0 1 1253.06 957.64L1265.01 974.97A213.9 213.9 0 0 0 1265.78 974.43Z" fill="#FCCDA0"/>
<path d="M1250.75 959.23A192.85 192.85 0 0 1 1250.01 959.74L1261.62 977.29A213.9 213.9 0 0 0 1262.71 976.56Z" fill="#FCCDA0"/>
<path d="M1247.67 961.28A192.85 192.85 0 0 1 1246.63 961.96L1257.88 979.75A213.9 213.9 0 0 0 1259.29 978.84Z" fill="#FCCDA0"/>
<path d="M1244.26 963.45A192.85 192.85 0 0 1 1242.64 964.45L1253.45 982.52A213.9 213.9 0 0 0 1255.51 981.25Z" fill="#FCCDA0"/>
<path d="M1240.23 965.89A192.85 192.85 0 0 1 1238.58 966.85L1248.95 985.18A213.9 213.9 0 0 0 1251.04 983.96Z" fill="#FCCDA0"/>
<path d="M1236.14 968.23A192.85 192.85 0 0 1 1232.39 970.27L1242.08 988.96A213.9 213.9 0 0 0 1246.51 986.55Z" fill="#FCCDA0"/>
<path d="M1229.9 971.55A192.85 192.85 0 0 1 1223.03 974.88L1231.7 994.07A213.9 213.9 0 0 0 1239.59 990.24Z" fill="#FCCDA0"/>
<path d="M1220.48 976.04A192.85 192.85 0 0 1 1208.41 980.9L1215.47 1000.73A213.9 213.9 0 0 0 1229.15 995.22Z" fill="#FCCDA0"/>
<path d="M1202.26 983.02A192.85 192.85 0 0 1 1200.44 983.61L1206.63 1003.73A213.9 213.9 0 0 0 1208.94 1002.99Z" fill="#FCCDA0"/>
<path d="M1197.12 984.62A192.85 192.85 0 0 1 1189.11 986.81L1194.06 1007.27A213.9 213.9 0 0 0 1203.24 1004.77Z" fill="#8FAEE8"/>
<path d="M1184.09 987.99A192.85 192.85 0 0 1 1170.96 990.42L1173.92 1011.26A213.9 213.9 0 0 0 1188.79 1008.51Z" fill="#FCCDA0"/>
<path d="M1168.19 990.82A192.85 192.85 0 0 1 1150.87 992.36L1151.64 1013.4A213.9 213.9 0 0 0 1171.15 1011.66Z" fill="#FCCDA0"/>
<path d="M1147.06 992.49A192.85 192.85 0 0 1 1138.41 992.51L1137.83 1013.55A213.9 213.9 0 0 0 1147.72 1013.53Z" fill="#FCCDA0"/>
<path d="M1135.62 992.43A192.85 192.85 0 0 1 1124.64 991.73L1122.55 1012.68A213.9 213.9 0 0 0 1135.03 1013.47Z" fill="#FCCDA0"/>
<path d="M1120.18 991.27A192.85 192.85 0 0 1 1119.28 991.16L1116.61 1012.04A213.9 213.9 0 0 0 1117.91 1012.19Z" fill="#8FAEE8"/>
<path d="M1116.51 990.8A192.85 192.85 0 0 1 1096.12 986.92L1090.92 1007.31A213.9 213.9 0 0 0 1113.83 1011.68Z" fill="#FCCDA0"/>
<path d="M1093.41 986.22A192.85 192.85 0 0 1 1090.59 985.46L1084.79 1005.7A213.9 213.9 0 0 0 1088.21 1006.62Z" fill="#FCCDA0"/>
<path d="M1086.29 984.21A192.85 192.85 0 0 1 1071.46 979.03L1063.57 998.54A213.9 213.9 0 0 0 1080.31 1004.39Z" fill="#FCCDA0"/>
<path d="M1067.62 977.46A192.85 192.85 0 0 1 1065.24 976.44L1056.68 995.67A213.9 213.9 0 0 0 1059.6 996.92Z" fill="#FCCDA0"/>
<path d="M1062.07 975.02A192.85 192.85 0 0 1 1031.28 957.32L1019.02 974.43A213.9 213.9 0 0 0 1053.44 994.22Z" fill="#FCCDA0"/>
<path d="M1029 955.69A192.85 192.85 0 0 1 993.84 922.67L977.53 935.97A213.9 213.9 0 0 0 1016.75 972.8Z" fill="#FCCDA0"/>
<path d="M992.07 920.5A192.85 192.85 0 0 1 990.88 919L974.25 931.9A213.9 213.9 0 0 0 975.76 933.8Z" fill="#8FAEE8"/>
<path d="M989.16 916.79A192.85 192.85 0 0 1 959.32 860.3L939.29 866.77A213.9 213.9 0 0 0 972.53 929.69Z" fill="#FCCDA0"/>
<path d="M958.46 857.64A192.85 192.85 0 0 1 950.02 786.3L929.03 784.69A213.9 213.9 0 0 0 938.43 864.11Z" fill="#FCCDA0"/>
<path d="M950.23 783.51A192.85 192.85 0 0 1 950.94 776.58L930.06 773.91A213.9 213.9 0 0 0 929.24 781.89Z" fill="#8FAEE8"/>
<path d="M951.3 773.81A192.85 192.85 0 0 1 1094.71 612.84L1089.66 592.4A213.9 213.9 0 0 0 930.42 771.13Z" fill="#FCCDA0"/>
<path d="M1097.43 612.17A192.85 192.85 0 0 1 1110.19 609.56L1106.82 588.78A213.9 213.9 0 0 0 1092.38 591.73Z" fill="#8FAEE8"/>
<path d="M1112.95 609.11A192.85 192.85 0 0 1 1130.91 607.19L1129.81 586.17A213.9 213.9 0 0 0 1109.58 588.33Z" fill="#58B36E"/>
<path d="M1133.71 607.05A192.85 192.85 0 0 1 1335.24 798.3L1356.3 798.3A213.9 213.9 0 0 0 1132.6 586.02Z" fill="#FCCDA0"/>
<g font-size="19.3" fill="#000">
<text x="262.3" y="685.4" text-anchor="middle">Bangladesh</text>
<text x="188.8" y="794.4" text-anchor="middle">Asia</text>
<text x="265.2" y="794.4" text-anchor="middle">Clade</text>
<text x="267.6" y="815.1" text-anchor="middle">2.3.2.1a</text>
<text x="389.2" y="806" text-anchor="middle">Oceania</text>
<text x="656.4" y="691.5" text-anchor="middle">Lao</text>
<text x="635.6" y="792.9" text-anchor="middle">Asia</text>
<text x="703.3" y="793.8" text-anchor="middle">Clade</text>
<text x="705.4" y="818.2" text-anchor="middle">2.3.2.1c</text>
<text x="837.7" y="825.75" text-anchor="middle" transform="rotate(10 837.7 818.8)">Vietnam</text>
<text x="799.7" y="877.45" text-anchor="middle" transform="rotate(-57 799.7 870.5)">Indonesia</text>
<text x="701.2" y="924.7" text-anchor="middle">Cambodia</text>
<text x="1063.5" y="716.8" text-anchor="middle">Canada</text>
<text x="1157.5" y="738.3" text-anchor="middle">North America</text>
<text x="1239.9" y="741.25" text-anchor="middle" transform="rotate(53 1239.9 734.3)">United States</text>
<text x="1143.4" y="791.4" text-anchor="middle">Clade</text>
<text x="1144.3" y="818.3" text-anchor="middle">2.3.4.4b</text>
<text x="1014" y="808.4" text-anchor="middle">United</text>
<text x="1013.4" y="831.2" text-anchor="middle">Kingdom</text>
<text x="1028.5" y="866.45" text-anchor="middle" transform="rotate(-33 1028.5 859.5)">Netherland</text>
<text x="1106.6" y="873" text-anchor="middle">Europe</text>
<text x="1057.5" y="895.9" text-anchor="middle">Italy</text>
<text x="1081" y="913.65" text-anchor="middle" transform="rotate(-58 1081 906.7)">Czech</text>
<text x="1099.9" y="927.05" text-anchor="middle" transform="rotate(-67 1099.9 920.1)">Sweden</text>
<text x="1120" y="926.95" text-anchor="middle" transform="rotate(-78 1120 920)">Poland</text>
<text x="1134.9" y="933.85" text-anchor="middle" transform="rotate(-85 1134.9 926.9)">Germany</text>
<text x="1262" y="813.95" text-anchor="middle" transform="rotate(5 1262 807)">South America</text>
<text x="1222.4" y="823.95" text-anchor="middle" transform="rotate(15 1222.4 817)">Africa</text>
<text x="1210.8" y="842.6" text-anchor="middle">Asia</text>
<text x="1267.9" y="856.35" text-anchor="middle" transform="rotate(21 1267.9 849.4)">China</text>
<text x="1261" y="869.95" text-anchor="middle" transform="rotate(30 1261 863)">Korea</text>
<text x="1248.2" y="890.25" text-anchor="middle" transform="rotate(42 1248.2 883.3)">Japan</text>
<text x="1570.5" y="685" text-anchor="middle">Vietnam</text>
<text x="1517" y="794.6" text-anchor="middle">Asia</text>
<text x="1587.6" y="793.1" text-anchor="middle">Clade</text>
<text x="1588.7" y="818.4" text-anchor="middle">2.3.4.4h</text>
<text x="1704.7" y="846.8" text-anchor="middle">Lao</text>
<text x="1632.1" y="919.2" text-anchor="middle">China</text>
</g>
<g font-size="19.8" fill="#231815">
<text x="1802.3" y="618">Subtype</text>
<rect x="1802" y="634.6" width="45.2" height="19.5" fill="#A5DACE"/>
<text x="1862" y="650.4">H5N1</text>
<rect x="1802" y="680.6" width="45.2" height="19.5" fill="#F5B8BC"/>
<text x="1862" y="696.4">H5N6</text>
<rect x="1802" y="727.3" width="45.2" height="19.5" fill="#D2CCE4"/>
<text x="1862" y="743.1">H5N8</text>
<text x="1800" y="880">Host</text>
<rect x="1797.2" y="895.3" width="45.6" height="19.5" fill="#FCCDA0"/>
<text x="1856.4" y="910.6">Avian</text>
<rect x="1797.2" y="933.2" width="45.6" height="19.5" fill="#D65F5F"/>
<text x="1856.4" y="948.5">Human</text>
<rect x="1797.2" y="970.7" width="45.6" height="19.5" fill="#58B36E"/>
<text x="1856.4" y="986">Dairy cow</text>
<rect x="1797.2" y="1008.2" width="45.6" height="19.5" fill="#8FAEE8"/>
<text x="1856.4" y="1023.5">Other Mammal</text>
</g>
<g stroke="#000" stroke-width="2.05"><rect x="216.82" y="1248.05" width="39.1" height="128.55" fill="#A8DEE2"/><rect x="279" y="1265.97" width="39.1" height="110.63" fill="#A8DEE2"/><rect x="341.17" y="1197.82" width="39.1" height="178.78" fill="#A8DEE2"/><rect x="403.35" y="1251.57" width="39.1" height="125.03" fill="#A8DEE2"/><rect x="465.53" y="1280.72" width="39.1" height="95.88" fill="#A8DEE2"/><rect x="527.71" y="1268.78" width="39.1" height="107.82" fill="#78B4DC"/><rect x="589.88" y="1278.97" width="39.1" height="97.63" fill="#78B4DC"/><rect x="652.06" y="1287.75" width="39.1" height="88.85" fill="#78B4DC"/><rect x="714.24" y="1290.56" width="39.1" height="86.04" fill="#4B8DCF"/><rect x="776.26" y="1275.1" width="39.1" height="101.5" fill="#4B8DCF"/><rect x="838.44" y="1275.45" width="39.1" height="101.15" fill="#4B8DCF"/><rect x="900.96" y="1280.72" width="39.1" height="95.88" fill="#4B8DCF"/><rect x="962.79" y="1287.75" width="39.1" height="88.85" fill="#3369B4"/><rect x="1024.97" y="1240.33" width="39.1" height="136.27" fill="#3369B4"/><rect x="1087.14" y="1212.57" width="39.1" height="164.03" fill="#3369B4"/><rect x="1149.32" y="1217.49" width="39.1" height="159.11" fill="#3369B4"/><rect x="1211.5" y="1230.14" width="39.1" height="146.46" fill="#2E4A9E"/><rect x="1274.03" y="1291.97" width="39.1" height="84.63" fill="#DD907C"/><rect x="1336.2" y="1289.15" width="39.1" height="87.45" fill="#DD907C"/><rect x="1398.04" y="1267.02" width="39.1" height="109.58" fill="#DD907C"/><rect x="1460.21" y="1303.91" width="39.1" height="72.69" fill="#DD907C"/><rect x="1522.39" y="1306.37" width="39.1" height="70.23" fill="#C2453A"/><rect x="1584.57" y="1295.83" width="39.1" height="80.77" fill="#C2453A"/><rect x="1646.75" y="1293.02" width="39.1" height="83.58" fill="#C2453A"/><rect x="1708.92" y="1275.1" width="39.1" height="101.5" fill="#80A595"/><rect x="1771.1" y="1306.02" width="39.1" height="70.58" fill="#80A595"/><rect x="1833.28" y="1269.83" width="39.1" height="106.77" fill="#80A595"/><rect x="1895.46" y="1269.83" width="39.1" height="106.77" fill="#80A595"/></g>
<path d="M190.5 1220.85H1949" stroke="#231815" stroke-width="1.8" stroke-dasharray="8.4 6.6" fill="none"/>
<path d="M191.6 1064.4V1377.3M178.8 1376.6H1958.6M178.8 1298.72H191.6M178.8 1220.85H191.6M178.8 1142.97H191.6M178.8 1065.1H191.6M236.37 1376.6v12M298.55 1376.6v12M360.72 1376.6v12M422.9 1376.6v12M485.08 1376.6v12M547.26 1376.6v12M609.43 1376.6v12M671.61 1376.6v12M733.79 1376.6v12M795.81 1376.6v12M857.99 1376.6v12M920.51 1376.6v12M982.34 1376.6v12M1044.52 1376.6v12M1106.69 1376.6v12M1168.87 1376.6v12M1231.05 1376.6v12M1293.58 1376.6v12M1355.75 1376.6v12M1417.59 1376.6v12M1479.76 1376.6v12M1541.94 1376.6v12M1604.12 1376.6v12M1666.3 1376.6v12M1728.47 1376.6v12M1790.65 1376.6v12M1852.83 1376.6v12M1915.01 1376.6v12" stroke="#000" stroke-width="2" fill="none"/>
<path d="M236.37 1213.98V1279.67M225.57 1213.98h21.6M225.57 1279.67h21.6M298.55 1247.7V1281.78M287.75 1247.7h21.6M287.75 1281.78h21.6M360.72 1143.02V1250.86M349.92 1143.02h21.6M349.92 1250.86h21.6M422.9 1237.87V1262.81M412.1 1237.87h21.6M412.1 1262.81h21.6M485.08 1262.81V1296.88M474.28 1262.81h21.6M474.28 1296.88h21.6M547.26 1251.22V1284.24M536.46 1251.22h21.6M536.46 1284.24h21.6M609.43 1238.57V1316.91M598.63 1238.57h21.6M598.63 1316.91h21.6M671.61 1254.73V1318.66M660.81 1254.73h21.6M660.81 1318.66h21.6M733.79 1285.29V1293.02M722.99 1285.29h21.6M722.99 1293.02h21.6M795.81 1263.51V1284.24M785.01 1263.51h21.6M785.01 1284.24h21.6M857.99 1230.14V1317.96M847.19 1230.14h21.6M847.19 1317.96h21.6M920.51 1243.49V1314.45M909.71 1243.49h21.6M909.71 1314.45h21.6M982.34 1265.97V1307.77M971.54 1265.97h21.6M971.54 1307.77h21.6M1044.52 1212.22V1265.27M1033.72 1212.22h21.6M1033.72 1265.27h21.6M1106.69 1180.26V1242.79M1095.89 1180.26h21.6M1095.89 1242.79h21.6M1168.87 1157.42V1274.4M1158.07 1157.42h21.6M1158.07 1274.4h21.6M1231.05 1210.47V1247.7M1220.25 1210.47h21.6M1220.25 1247.7h21.6M1293.58 1263.86V1317.61M1282.78 1263.86h21.6M1282.78 1317.61h21.6M1355.75 1279.67V1295.13M1344.95 1279.67h21.6M1344.95 1295.13h21.6M1417.59 1241.38V1289.86M1406.79 1241.38h21.6M1406.79 1289.86h21.6M1479.76 1296.53V1309.53M1468.96 1296.53h21.6M1468.96 1309.53h21.6M1541.94 1286.7V1323.58M1531.14 1286.7h21.6M1531.14 1323.58h21.6M1604.12 1275.1V1314.1M1593.32 1275.1h21.6M1593.32 1314.1h21.6M1666.3 1271.94V1311.29M1655.5 1271.94h21.6M1655.5 1311.29h21.6M1728.47 1255.43V1292.67M1717.67 1255.43h21.6M1717.67 1292.67h21.6M1790.65 1284.59V1324.28M1779.85 1284.59h21.6M1779.85 1324.28h21.6M1852.83 1241.03V1295.13M1842.03 1241.03h21.6M1842.03 1295.13h21.6M1915.01 1243.49V1293.37M1904.21 1243.49h21.6M1904.21 1293.37h21.6" stroke="#000" stroke-width="2.05" fill="none"/>
<g stroke="#000" stroke-width="2.05" fill="none"><circle cx="236.37" cy="1216.44" r="5.45"/><circle cx="236.37" cy="1242.79" r="5.45"/><circle cx="236.37" cy="1282.13" r="5.45"/><circle cx="288.36" cy="1253.32" r="5.45"/><circle cx="308.73" cy="1256.49" r="5.45"/><circle cx="298.55" cy="1284.24" r="5.45"/><circle cx="360.72" cy="1136.35" r="5.45"/><circle cx="360.72" cy="1214.68" r="5.45"/><circle cx="360.72" cy="1240.33" r="5.45"/><circle cx="422.9" cy="1236.11" r="5.45"/><circle cx="412.36" cy="1255.43" r="5.45"/><circle cx="433.09" cy="1259.3" r="5.45"/><circle cx="474.89" cy="1263.51" r="5.45"/><circle cx="495.27" cy="1278.97" r="5.45"/><circle cx="485.08" cy="1297.59" r="5.45"/><circle cx="537.07" cy="1252.27" r="5.45"/><circle cx="557.44" cy="1265.97" r="5.45"/><circle cx="547.26" cy="1284.94" r="5.45"/><circle cx="609.43" cy="1235.41" r="5.45"/><circle cx="609.43" cy="1283.89" r="5.45"/><circle cx="609.43" cy="1312.69" r="5.45"/><circle cx="671.61" cy="1250.86" r="5.45"/><circle cx="661.42" cy="1300.04" r="5.45"/><circle cx="681.8" cy="1310.58" r="5.45"/><circle cx="721.14" cy="1286.7" r="5.45"/><circle cx="733.79" cy="1288.45" r="5.45"/><circle cx="747.49" cy="1293.72" r="5.45"/><circle cx="795.81" cy="1262.11" r="5.45"/><circle cx="785.62" cy="1277.91" r="5.45"/><circle cx="806" cy="1282.13" r="5.45"/><circle cx="857.99" cy="1226.27" r="5.45"/><circle cx="857.99" cy="1282.13" r="5.45"/><circle cx="857.99" cy="1313.39" r="5.45"/><circle cx="920.51" cy="1239.27" r="5.45"/><circle cx="909.98" cy="1292.67" r="5.45"/><circle cx="930.7" cy="1307.07" r="5.45"/><circle cx="971.8" cy="1270.19" r="5.45"/><circle cx="992.18" cy="1280.37" r="5.45"/><circle cx="982.34" cy="1310.93" r="5.45"/><circle cx="1044.52" cy="1215.39" r="5.45"/><circle cx="1044.52" cy="1232.25" r="5.45"/><circle cx="1044.52" cy="1268.78" r="5.45"/><circle cx="1106.69" cy="1179.55" r="5.45"/><circle cx="1106.69" cy="1213.28" r="5.45"/><circle cx="1106.69" cy="1242.43" r="5.45"/><circle cx="1158.68" cy="1175.34" r="5.45"/><circle cx="1179.41" cy="1190.09" r="5.45"/><circle cx="1168.87" cy="1283.18" r="5.45"/><circle cx="1231.05" cy="1207.31" r="5.45"/><circle cx="1220.86" cy="1235.76" r="5.45"/><circle cx="1241.24" cy="1243.14" r="5.45"/><circle cx="1293.58" cy="1260" r="5.45"/><circle cx="1283.04" cy="1303.56" r="5.45"/><circle cx="1303.41" cy="1309.53" r="5.45"/><circle cx="1342.41" cy="1282.48" r="5.45"/><circle cx="1355.75" cy="1284.24" r="5.45"/><circle cx="1369.1" cy="1296.88" r="5.45"/><circle cx="1417.59" cy="1238.22" r="5.45"/><circle cx="1407.4" cy="1273.35" r="5.45"/><circle cx="1427.77" cy="1284.24" r="5.45"/><circle cx="1466.77" cy="1297.23" r="5.45"/><circle cx="1480.12" cy="1302.15" r="5.45"/><circle cx="1493.11" cy="1310.58" r="5.45"/><circle cx="1541.94" cy="1283.53" r="5.45"/><circle cx="1531.75" cy="1315.85" r="5.45"/><circle cx="1552.13" cy="1315.85" r="5.45"/><circle cx="1604.12" cy="1274.75" r="5.45"/><circle cx="1604.12" cy="1294.07" r="5.45"/><circle cx="1604.12" cy="1314.1" r="5.45"/><circle cx="1666.3" cy="1271.94" r="5.45"/><circle cx="1666.3" cy="1292.67" r="5.45"/><circle cx="1666.3" cy="1310.93" r="5.45"/><circle cx="1728.47" cy="1252.62" r="5.45"/><circle cx="1718.29" cy="1283.89" r="5.45"/><circle cx="1738.66" cy="1284.94" r="5.45"/><circle cx="1790.65" cy="1281.78" r="5.45"/><circle cx="1780.46" cy="1315.85" r="5.45"/><circle cx="1800.84" cy="1315.85" r="5.45"/><circle cx="1852.83" cy="1237.16" r="5.45"/><circle cx="1842.64" cy="1277.91" r="5.45"/><circle cx="1863.02" cy="1289.51" r="5.45"/><circle cx="1915.01" cy="1240.68" r="5.45"/><circle cx="1904.82" cy="1275.45" r="5.45"/><circle cx="1925.19" cy="1288.8" r="5.45"/></g>
<g font-size="20.1" fill="#231815" text-anchor="end"><text x="167.6" y="1384.2">10</text><text x="167.6" y="1306.32">100</text><text x="167.6" y="1228.45">1000</text><text x="167.6" y="1150.57">10000</text><text x="167.6" y="1072.7">100000</text></g>
<g font-size="25" fill="#231815" text-anchor="middle"><text transform="translate(62 1221.45) rotate(-90)">Neutralization titer against</text><text font-size="24.5" transform="translate(90.2 1223.15) rotate(-90)">clade 2.3.2.1a</text></g>
<g stroke="#000" stroke-width="2.05"><rect x="213.7" y="1581.24" width="39.1" height="163.36" fill="#A8DEE2"/><rect x="275.53" y="1625.15" width="39.1" height="119.45" fill="#A8DEE2"/><rect x="337.71" y="1605.83" width="39.1" height="138.77" fill="#A8DEE2"/><rect x="399.88" y="1615.31" width="39.1" height="129.29" fill="#A8DEE2"/><rect x="462.06" y="1631.47" width="39.1" height="113.13" fill="#A8DEE2"/><rect x="524.24" y="1619.88" width="39.1" height="124.72" fill="#78B4DC"/><rect x="586.82" y="1634.99" width="39.1" height="109.61" fill="#78B4DC"/><rect x="649" y="1653.96" width="39.1" height="90.64" fill="#78B4DC"/><rect x="711.17" y="1655.36" width="39.1" height="89.24" fill="#4B8DCF"/><rect x="773.35" y="1632.18" width="39.1" height="112.42" fill="#4B8DCF"/><rect x="835.53" y="1610.4" width="39.1" height="134.2" fill="#4B8DCF"/><rect x="897.71" y="1621.29" width="39.1" height="123.31" fill="#4B8DCF"/><rect x="959.88" y="1648.69" width="39.1" height="95.91" fill="#3369B4"/><rect x="1022.06" y="1605.13" width="39.1" height="139.47" fill="#3369B4"/><rect x="1084.24" y="1575.62" width="39.1" height="168.98" fill="#3369B4"/><rect x="1147.9" y="1568.94" width="39.1" height="175.66" fill="#3369B4"/><rect x="1210.07" y="1576.67" width="39.1" height="167.93" fill="#2E4A9E"/><rect x="1272.25" y="1653.6" width="39.1" height="91" fill="#DD907C"/><rect x="1334.43" y="1634.28" width="39.1" height="110.32" fill="#DD907C"/><rect x="1396.9" y="1643.42" width="39.1" height="101.18" fill="#DD907C"/><rect x="1459.43" y="1647.98" width="39.1" height="96.62" fill="#DD907C"/><rect x="1521.61" y="1655.71" width="39.1" height="88.89" fill="#C2453A"/><rect x="1583.79" y="1645.88" width="39.1" height="98.72" fill="#C2453A"/><rect x="1646.32" y="1660.28" width="39.1" height="84.32" fill="#C2453A"/><rect x="1708.49" y="1646.58" width="39.1" height="98.02" fill="#80A595"/><rect x="1770.67" y="1645.88" width="39.1" height="98.72" fill="#80A595"/><rect x="1832.85" y="1655.01" width="39.1" height="89.59" fill="#80A595"/><rect x="1895.38" y="1653.96" width="39.1" height="90.64" fill="#80A595"/></g>
<path d="M190.3 1588.95H1946.5" stroke="#231815" stroke-width="1.8" stroke-dasharray="8.4 6.6" fill="none"/>
<path d="M191.4 1432.6V1745.3M178.6 1744.6H1958.8M178.6 1666.77H191.4M178.6 1588.95H191.4M178.6 1511.12H191.4M178.6 1433.3H191.4M233.25 1744.6v12M295.08 1744.6v12M357.26 1744.6v12M419.43 1744.6v12M481.61 1744.6v12M543.79 1744.6v12M606.37 1744.6v12M668.55 1744.6v12M730.72 1744.6v12M792.9 1744.6v12M855.08 1744.6v12M917.26 1744.6v12M979.43 1744.6v12M1041.61 1744.6v12M1103.79 1744.6v12M1167.45 1744.6v12M1229.62 1744.6v12M1291.8 1744.6v12M1353.98 1744.6v12M1416.45 1744.6v12M1478.98 1744.6v12M1541.16 1744.6v12M1603.34 1744.6v12M1665.87 1744.6v12M1728.04 1744.6v12M1790.22 1744.6v12M1852.4 1744.6v12M1914.93 1744.6v12" stroke="#000" stroke-width="2" fill="none"/>
<path d="M233.25 1533.46V1625.85M222.45 1533.46h21.6M222.45 1625.85h21.6M295.08 1586.16V1662.39M284.28 1586.16h21.6M284.28 1662.39h21.6M357.26 1565.08V1644.12M346.46 1565.08h21.6M346.46 1644.12h21.6M419.43 1575.62V1651.85M408.63 1575.62h21.6M408.63 1651.85h21.6M481.61 1601.97V1658.87M470.81 1601.97h21.6M470.81 1658.87h21.6M543.79 1599.86V1637.44M532.99 1599.86h21.6M532.99 1637.44h21.6M606.37 1605.83V1661.68M595.57 1605.83h21.6M595.57 1661.68h21.6M668.55 1628.31V1679.25M657.75 1628.31h21.6M657.75 1679.25h21.6M730.72 1637.44V1671.52M719.92 1637.44h21.6M719.92 1671.52h21.6M792.9 1608.64V1652.55M782.1 1608.64h21.6M782.1 1652.55h21.6M855.08 1584.05V1633.58M844.28 1584.05h21.6M844.28 1633.58h21.6M917.26 1588.97V1650.79M906.46 1588.97h21.6M906.46 1650.79h21.6M979.43 1626.55V1668.36M968.63 1626.55h21.6M968.63 1668.36h21.6M1041.61 1570.35V1637.8M1030.81 1570.35h21.6M1030.81 1637.8h21.6M1103.79 1541.19V1606.88M1092.99 1541.19h21.6M1092.99 1606.88h21.6M1167.45 1523.28V1613.21M1156.65 1523.28h21.6M1156.65 1613.21h21.6M1229.62 1536.27V1613.56M1218.82 1536.27h21.6M1218.82 1613.56h21.6M1291.8 1629.37V1675.38M1281 1629.37h21.6M1281 1675.38h21.6M1353.98 1607.94V1658.87M1343.18 1607.94h21.6M1343.18 1658.87h21.6M1416.45 1629.37V1657.12M1405.65 1629.37h21.6M1405.65 1657.12h21.6M1478.98 1616.72V1676.79M1468.18 1616.72h21.6M1468.18 1676.79h21.6M1541.16 1616.02V1691.19M1530.36 1616.02h21.6M1530.36 1691.19h21.6M1603.34 1613.56V1675.38M1592.54 1613.56h21.6M1592.54 1675.38h21.6M1665.87 1640.61V1678.19M1655.07 1640.61h21.6M1655.07 1678.19h21.6M1728.04 1625.5V1666.6M1717.24 1625.5h21.6M1717.24 1666.6h21.6M1790.22 1623.04V1666.6M1779.42 1623.04h21.6M1779.42 1666.6h21.6M1852.4 1642.36V1664.84M1841.6 1642.36h21.6M1841.6 1664.84h21.6M1914.93 1638.85V1666.95M1904.13 1638.85h21.6M1904.13 1666.95h21.6" stroke="#000" stroke-width="2.05" fill="none"/>
<g stroke="#000" stroke-width="2.05" fill="none"><circle cx="233.25" cy="1513.79" r="5.45"/><circle cx="219.55" cy="1529.95" r="5.45"/><circle cx="233.25" cy="1539.44" r="5.45"/><circle cx="246.95" cy="1540.14" r="5.45"/><circle cx="233.25" cy="1581.94" r="5.45"/><circle cx="219.55" cy="1600.91" r="5.45"/><circle cx="233.25" cy="1610.4" r="5.45"/><circle cx="246.95" cy="1611.8" r="5.45"/><circle cx="233.25" cy="1627.96" r="5.45"/><circle cx="233.25" cy="1647.28" r="5.45"/><circle cx="295.08" cy="1559.81" r="5.45"/><circle cx="295.08" cy="1584.4" r="5.45"/><circle cx="295.08" cy="1595.64" r="5.45"/><circle cx="286.3" cy="1606.88" r="5.45"/><circle cx="304.21" cy="1605.48" r="5.45"/><circle cx="295.08" cy="1647.63" r="5.45"/><circle cx="281.03" cy="1653.25" r="5.45"/><circle cx="290.16" cy="1659.93" r="5.45"/><circle cx="299.65" cy="1660.98" r="5.45"/><circle cx="309.13" cy="1667.3" r="5.45"/><circle cx="350.58" cy="1544.71" r="5.45"/><circle cx="364.28" cy="1554.54" r="5.45"/><circle cx="357.26" cy="1572.11" r="5.45"/><circle cx="364.28" cy="1590.02" r="5.45"/><circle cx="350.58" cy="1597.05" r="5.45"/><circle cx="357.26" cy="1613.21" r="5.45"/><circle cx="357.26" cy="1630.07" r="5.45"/><circle cx="343.91" cy="1642.36" r="5.45"/><circle cx="357.26" cy="1648.33" r="5.45"/><circle cx="370.96" cy="1656.41" r="5.45"/><circle cx="419.43" cy="1556.65" r="5.45"/><circle cx="412.76" cy="1572.81" r="5.45"/><circle cx="426.46" cy="1575.97" r="5.45"/><circle cx="419.43" cy="1592.48" r="5.45"/><circle cx="419.43" cy="1611.8" r="5.45"/><circle cx="406.08" cy="1632.53" r="5.45"/><circle cx="419.43" cy="1634.99" r="5.45"/><circle cx="433.13" cy="1635.69" r="5.45"/><circle cx="412.76" cy="1663.09" r="5.45"/><circle cx="426.46" cy="1663.09" r="5.45"/><circle cx="481.61" cy="1591.43" r="5.45"/><circle cx="468.61" cy="1598.8" r="5.45"/><circle cx="481.61" cy="1612.5" r="5.45"/><circle cx="496.01" cy="1612.5" r="5.45"/><circle cx="488.99" cy="1617.77" r="5.45"/><circle cx="474.94" cy="1631.82" r="5.45"/><circle cx="468.61" cy="1644.82" r="5.45"/><circle cx="481.61" cy="1659.93" r="5.45"/><circle cx="495.31" cy="1660.28" r="5.45"/><circle cx="481.61" cy="1675.73" r="5.45"/><circle cx="539.92" cy="1591.78" r="5.45"/><circle cx="549.06" cy="1594.24" r="5.45"/><circle cx="543.79" cy="1602.32" r="5.45"/><circle cx="535.01" cy="1614.96" r="5.45"/><circle cx="553.27" cy="1614.26" r="5.45"/><circle cx="530.44" cy="1629.72" r="5.45"/><circle cx="539.92" cy="1630.77" r="5.45"/><circle cx="549.06" cy="1631.47" r="5.45"/><circle cx="557.84" cy="1632.18" r="5.45"/><circle cx="543.79" cy="1650.09" r="5.45"/><circle cx="606.37" cy="1593.89" r="5.45"/><circle cx="593.02" cy="1604.07" r="5.45"/><circle cx="606.37" cy="1608.64" r="5.45"/><circle cx="620.42" cy="1614.26" r="5.45"/><circle cx="606.37" cy="1634.28" r="5.45"/><circle cx="593.02" cy="1643.07" r="5.45"/><circle cx="606.37" cy="1644.82" r="5.45"/><circle cx="620.42" cy="1654.66" r="5.45"/><circle cx="599.34" cy="1665.2" r="5.45"/><circle cx="613.4" cy="1678.19" r="5.45"/><circle cx="668.9" cy="1608.64" r="5.45"/><circle cx="663.98" cy="1623.04" r="5.45"/><circle cx="673.11" cy="1629.01" r="5.45"/><circle cx="674.17" cy="1652.2" r="5.45"/><circle cx="683.65" cy="1652.55" r="5.45"/><circle cx="654.85" cy="1661.68" r="5.45"/><circle cx="663.98" cy="1663.09" r="5.45"/><circle cx="659.41" cy="1673.63" r="5.45"/><circle cx="668.9" cy="1681.71" r="5.45"/><circle cx="678.38" cy="1684.52" r="5.45"/><circle cx="721.94" cy="1628.31" r="5.45"/><circle cx="731.78" cy="1632.88" r="5.45"/><circle cx="740.91" cy="1638.15" r="5.45"/><circle cx="740.91" cy="1651.14" r="5.45"/><circle cx="731.43" cy="1655.36" r="5.45"/><circle cx="721.94" cy="1658.17" r="5.45"/><circle cx="717.02" cy="1661.68" r="5.45"/><circle cx="726.86" cy="1668.71" r="5.45"/><circle cx="736.34" cy="1668.71" r="5.45"/><circle cx="745.48" cy="1676.79" r="5.45"/><circle cx="779.9" cy="1596.7" r="5.45"/><circle cx="793.6" cy="1611.45" r="5.45"/><circle cx="807.3" cy="1611.1" r="5.45"/><circle cx="807.3" cy="1621.64" r="5.45"/><circle cx="779.9" cy="1628.31" r="5.45"/><circle cx="793.6" cy="1627.26" r="5.45"/><circle cx="786.58" cy="1643.77" r="5.45"/><circle cx="786.58" cy="1654.66" r="5.45"/><circle cx="800.28" cy="1651.85" r="5.45"/><circle cx="800.28" cy="1669.06" r="5.45"/><circle cx="855.78" cy="1561.22" r="5.45"/><circle cx="851.21" cy="1591.43" r="5.45"/><circle cx="860.35" cy="1597.4" r="5.45"/><circle cx="869.83" cy="1601.97" r="5.45"/><circle cx="842.08" cy="1605.48" r="5.45"/><circle cx="860.35" cy="1605.13" r="5.45"/><circle cx="851.21" cy="1612.5" r="5.45"/><circle cx="846.3" cy="1636.74" r="5.45"/><circle cx="855.78" cy="1640.61" r="5.45"/><circle cx="864.91" cy="1641.66" r="5.45"/><circle cx="918.31" cy="1554.54" r="5.45"/><circle cx="914.8" cy="1585.81" r="5.45"/><circle cx="921.82" cy="1594.59" r="5.45"/><circle cx="921.82" cy="1621.29" r="5.45"/><circle cx="914.8" cy="1630.77" r="5.45"/><circle cx="905.66" cy="1638.5" r="5.45"/><circle cx="911.28" cy="1638.5" r="5.45"/><circle cx="918.31" cy="1643.07" r="5.45"/><circle cx="925.34" cy="1643.42" r="5.45"/><circle cx="932.36" cy="1650.09" r="5.45"/><circle cx="966.79" cy="1621.29" r="5.45"/><circle cx="980.49" cy="1621.29" r="5.45"/><circle cx="994.19" cy="1625.15" r="5.45"/><circle cx="973.46" cy="1642.01" r="5.45"/><circle cx="987.16" cy="1642.01" r="5.45"/><circle cx="966.79" cy="1655.36" r="5.45"/><circle cx="980.49" cy="1656.41" r="5.45"/><circle cx="994.19" cy="1658.52" r="5.45"/><circle cx="973.46" cy="1671.87" r="5.45"/><circle cx="987.16" cy="1681" r="5.45"/><circle cx="1042.66" cy="1540.49" r="5.45"/><circle cx="1035.99" cy="1575.62" r="5.45"/><circle cx="1049.69" cy="1575.62" r="5.45"/><circle cx="1035.99" cy="1594.59" r="5.45"/><circle cx="1049.69" cy="1592.83" r="5.45"/><circle cx="1028.96" cy="1621.99" r="5.45"/><circle cx="1042.66" cy="1621.99" r="5.45"/><circle cx="1056.36" cy="1624.45" r="5.45"/><circle cx="1035.99" cy="1642.36" r="5.45"/><circle cx="1049.69" cy="1646.58" r="5.45"/><circle cx="1097.46" cy="1542.95" r="5.45"/><circle cx="1106.25" cy="1545.76" r="5.45"/><circle cx="1113.27" cy="1547.87" r="5.45"/><circle cx="1120.3" cy="1548.57" r="5.45"/><circle cx="1090.44" cy="1552.79" r="5.45"/><circle cx="1101.68" cy="1570.35" r="5.45"/><circle cx="1108.71" cy="1582.64" r="5.45"/><circle cx="1101.68" cy="1603.72" r="5.45"/><circle cx="1108.71" cy="1614.26" r="5.45"/><circle cx="1105.19" cy="1633.58" r="5.45"/><circle cx="1157.26" cy="1494.82" r="5.45"/><circle cx="1177.63" cy="1507.12" r="5.45"/><circle cx="1157.26" cy="1547.87" r="5.45"/><circle cx="1177.63" cy="1548.92" r="5.45"/><circle cx="1177.63" cy="1563.32" r="5.45"/><circle cx="1157.26" cy="1574.56" r="5.45"/><circle cx="1157.26" cy="1593.53" r="5.45"/><circle cx="1177.63" cy="1595.29" r="5.45"/><circle cx="1157.26" cy="1621.99" r="5.45"/><circle cx="1177.63" cy="1631.82" r="5.45"/><circle cx="1219.09" cy="1529.25" r="5.45"/><circle cx="1239.81" cy="1531.01" r="5.45"/><circle cx="1219.09" cy="1545.76" r="5.45"/><circle cx="1239.81" cy="1549.27" r="5.45"/><circle cx="1239.81" cy="1568.59" r="5.45"/><circle cx="1219.09" cy="1574.56" r="5.45"/><circle cx="1219.09" cy="1592.13" r="5.45"/><circle cx="1239.81" cy="1596.7" r="5.45"/><circle cx="1229.62" cy="1624.45" r="5.45"/><circle cx="1229.62" cy="1641.66" r="5.45"/><circle cx="1285.13" cy="1613.56" r="5.45"/><circle cx="1298.83" cy="1625.5" r="5.45"/><circle cx="1291.8" cy="1639.9" r="5.45"/><circle cx="1305.85" cy="1640.96" r="5.45"/><circle cx="1278.1" cy="1644.82" r="5.45"/><circle cx="1285.13" cy="1663.44" r="5.45"/><circle cx="1298.83" cy="1663.44" r="5.45"/><circle cx="1278.1" cy="1672.92" r="5.45"/><circle cx="1291.8" cy="1675.73" r="5.45"/><circle cx="1305.85" cy="1684.52" r="5.45"/><circle cx="1349.76" cy="1594.59" r="5.45"/><circle cx="1358.9" cy="1598.8" r="5.45"/><circle cx="1354.33" cy="1614.96" r="5.45"/><circle cx="1363.81" cy="1621.99" r="5.45"/><circle cx="1345.2" cy="1629.72" r="5.45"/><circle cx="1340.63" cy="1646.93" r="5.45"/><circle cx="1349.76" cy="1650.79" r="5.45"/><circle cx="1359.25" cy="1651.85" r="5.45"/><circle cx="1368.38" cy="1653.25" r="5.45"/><circle cx="1354.33" cy="1671.87" r="5.45"/><circle cx="1411.18" cy="1622.69" r="5.45"/><circle cx="1416.45" cy="1627.26" r="5.45"/><circle cx="1421.72" cy="1629.72" r="5.45"/><circle cx="1430.86" cy="1639.55" r="5.45"/><circle cx="1403.11" cy="1640.61" r="5.45"/><circle cx="1419.26" cy="1640.61" r="5.45"/><circle cx="1408.37" cy="1643.77" r="5.45"/><circle cx="1413.64" cy="1650.09" r="5.45"/><circle cx="1425.24" cy="1650.44" r="5.45"/><circle cx="1416.45" cy="1677.14" r="5.45"/><circle cx="1478.98" cy="1584.4" r="5.45"/><circle cx="1474.42" cy="1618.83" r="5.45"/><circle cx="1483.9" cy="1622.69" r="5.45"/><circle cx="1478.98" cy="1646.58" r="5.45"/><circle cx="1488.47" cy="1646.58" r="5.45"/><circle cx="1469.85" cy="1656.06" r="5.45"/><circle cx="1465.28" cy="1670.82" r="5.45"/><circle cx="1474.42" cy="1670.82" r="5.45"/><circle cx="1483.9" cy="1675.38" r="5.45"/><circle cx="1493.03" cy="1675.38" r="5.45"/><circle cx="1541.86" cy="1567.89" r="5.45"/><circle cx="1538.7" cy="1622.34" r="5.45"/><circle cx="1544.32" cy="1623.39" r="5.45"/><circle cx="1542.21" cy="1666.95" r="5.45"/><circle cx="1543.97" cy="1669.76" r="5.45"/><circle cx="1527.81" cy="1672.22" r="5.45"/><circle cx="1533.08" cy="1673.63" r="5.45"/><circle cx="1538.35" cy="1680.3" r="5.45"/><circle cx="1549.94" cy="1681" r="5.45"/><circle cx="1555.21" cy="1682.41" r="5.45"/><circle cx="1603.69" cy="1580.89" r="5.45"/><circle cx="1603.69" cy="1613.91" r="5.45"/><circle cx="1603.69" cy="1631.47" r="5.45"/><circle cx="1617.39" cy="1635.69" r="5.45"/><circle cx="1589.99" cy="1642.71" r="5.45"/><circle cx="1589.99" cy="1651.14" r="5.45"/><circle cx="1603.69" cy="1661.68" r="5.45"/><circle cx="1617.39" cy="1665.2" r="5.45"/><circle cx="1596.66" cy="1678.9" r="5.45"/><circle cx="1610.36" cy="1683.46" r="5.45"/><circle cx="1658.84" cy="1632.18" r="5.45"/><circle cx="1666.57" cy="1633.93" r="5.45"/><circle cx="1673.24" cy="1638.85" r="5.45"/><circle cx="1669.38" cy="1655.36" r="5.45"/><circle cx="1662.35" cy="1659.93" r="5.45"/><circle cx="1652.52" cy="1664.14" r="5.45"/><circle cx="1658.84" cy="1671.87" r="5.45"/><circle cx="1665.51" cy="1674.68" r="5.45"/><circle cx="1673.24" cy="1677.49" r="5.45"/><circle cx="1679.92" cy="1679.95" r="5.45"/><circle cx="1728.04" cy="1594.24" r="5.45"/><circle cx="1732.96" cy="1640.26" r="5.45"/><circle cx="1737.88" cy="1642.36" r="5.45"/><circle cx="1742.8" cy="1642.71" r="5.45"/><circle cx="1713.29" cy="1651.85" r="5.45"/><circle cx="1718.56" cy="1651.85" r="5.45"/><circle cx="1723.83" cy="1651.85" r="5.45"/><circle cx="1728.75" cy="1648.33" r="5.45"/><circle cx="1725.94" cy="1665.2" r="5.45"/><circle cx="1730.85" cy="1669.41" r="5.45"/><circle cx="1790.57" cy="1594.24" r="5.45"/><circle cx="1787.41" cy="1631.82" r="5.45"/><circle cx="1794.44" cy="1636.04" r="5.45"/><circle cx="1801.11" cy="1640.96" r="5.45"/><circle cx="1780.38" cy="1646.58" r="5.45"/><circle cx="1777.22" cy="1652.2" r="5.45"/><circle cx="1783.9" cy="1653.25" r="5.45"/><circle cx="1790.92" cy="1662.39" r="5.45"/><circle cx="1797.6" cy="1665.2" r="5.45"/><circle cx="1804.62" cy="1666.95" r="5.45"/><circle cx="1852.75" cy="1629.01" r="5.45"/><circle cx="1848.18" cy="1647.63" r="5.45"/><circle cx="1855.21" cy="1649.04" r="5.45"/><circle cx="1862.23" cy="1650.09" r="5.45"/><circle cx="1842.91" cy="1652.2" r="5.45"/><circle cx="1839.4" cy="1658.87" r="5.45"/><circle cx="1846.43" cy="1659.93" r="5.45"/><circle cx="1853.45" cy="1660.63" r="5.45"/><circle cx="1860.48" cy="1661.68" r="5.45"/><circle cx="1866.45" cy="1672.57" r="5.45"/><circle cx="1910.36" cy="1629.01" r="5.45"/><circle cx="1919.49" cy="1632.88" r="5.45"/><circle cx="1919.49" cy="1643.07" r="5.45"/><circle cx="1901.23" cy="1655.36" r="5.45"/><circle cx="1910.36" cy="1653.96" r="5.45"/><circle cx="1929.33" cy="1653.25" r="5.45"/><circle cx="1901.23" cy="1658.87" r="5.45"/><circle cx="1910.36" cy="1660.98" r="5.45"/><circle cx="1919.49" cy="1664.84" r="5.45"/><circle cx="1929.33" cy="1672.92" r="5.45"/></g>
<g font-size="20.1" fill="#231815" text-anchor="end"><text x="165.2" y="1752.2">10</text><text x="165.2" y="1674.37">100</text><text x="165.2" y="1596.55">1000</text><text x="165.2" y="1518.72">10000</text><text x="165.2" y="1440.9">100000</text></g>
<g font-size="25" fill="#231815" text-anchor="middle"><text transform="translate(62 1578.65) rotate(-90)">Neutralization titer against</text><text font-size="25" transform="translate(90.2 1578.15) rotate(-90)">clade 2.3.2.1c</text></g>
<g stroke="#000" stroke-width="2.05"><rect x="215.81" y="1995.69" width="39.1" height="110.61" fill="#A8DEE2"/><rect x="277.99" y="2008.69" width="39.1" height="97.61" fill="#A8DEE2"/><rect x="340.16" y="2001.31" width="39.1" height="104.99" fill="#A8DEE2"/><rect x="402.34" y="2009.04" width="39.1" height="97.26" fill="#A8DEE2"/><rect x="464.52" y="2010.09" width="39.1" height="96.21" fill="#A8DEE2"/><rect x="526.7" y="1995.69" width="39.1" height="110.61" fill="#78B4DC"/><rect x="589.28" y="2014.66" width="39.1" height="91.64" fill="#78B4DC"/><rect x="651.46" y="2025.55" width="39.1" height="80.75" fill="#78B4DC"/><rect x="713.63" y="2013.96" width="39.1" height="92.34" fill="#4B8DCF"/><rect x="776.16" y="2003.77" width="39.1" height="102.53" fill="#4B8DCF"/><rect x="838.34" y="1994.99" width="39.1" height="111.31" fill="#4B8DCF"/><rect x="900.52" y="1985.15" width="39.1" height="121.15" fill="#4B8DCF"/><rect x="962.69" y="2010.79" width="39.1" height="95.51" fill="#3369B4"/><rect x="1025.22" y="1994.63" width="39.1" height="111.67" fill="#3369B4"/><rect x="1087.4" y="1986.55" width="39.1" height="119.75" fill="#3369B4"/><rect x="1150.36" y="2001.66" width="39.1" height="104.64" fill="#3369B4"/><rect x="1212.53" y="1989.01" width="39.1" height="117.29" fill="#2E4A9E"/><rect x="1274.71" y="1944.05" width="39.1" height="162.25" fill="#DD907C"/><rect x="1336.89" y="1920.51" width="39.1" height="185.79" fill="#DD907C"/><rect x="1399.36" y="1888.2" width="39.1" height="218.1" fill="#DD907C"/><rect x="1461.54" y="1878.01" width="39.1" height="228.29" fill="#DD907C"/><rect x="1524.07" y="1917.7" width="39.1" height="188.6" fill="#C2453A"/><rect x="1586.25" y="1875.55" width="39.1" height="230.75" fill="#C2453A"/><rect x="1648.42" y="1985.85" width="39.1" height="120.45" fill="#C2453A"/><rect x="1710.95" y="1970.75" width="39.1" height="135.55" fill="#80A595"/><rect x="1773.13" y="2000.61" width="39.1" height="105.69" fill="#80A595"/><rect x="1835.31" y="2001.31" width="39.1" height="104.99" fill="#80A595"/><rect x="1897.83" y="1992.53" width="39.1" height="113.77" fill="#80A595"/></g>
<path d="M193.2 1950.53H1951.8" stroke="#231815" stroke-width="1.8" stroke-dasharray="8.4 6.6" fill="none"/>
<path d="M194.3 1794.05V2107M181.5 2106.3H1960.6M181.5 2028.41H194.3M181.5 1950.53H194.3M181.5 1872.64H194.3M181.5 1794.75H194.3M235.36 2106.3v12M297.54 2106.3v12M359.71 2106.3v12M421.89 2106.3v12M484.07 2106.3v12M546.25 2106.3v12M608.83 2106.3v12M671.01 2106.3v12M733.18 2106.3v12M795.71 2106.3v12M857.89 2106.3v12M920.07 2106.3v12M982.24 2106.3v12M1044.77 2106.3v12M1106.95 2106.3v12M1169.91 2106.3v12M1232.08 2106.3v12M1294.26 2106.3v12M1356.44 2106.3v12M1418.91 2106.3v12M1481.09 2106.3v12M1543.62 2106.3v12M1605.8 2106.3v12M1667.97 2106.3v12M1730.5 2106.3v12M1792.68 2106.3v12M1854.86 2106.3v12M1917.38 2106.3v12" stroke="#000" stroke-width="2" fill="none"/>
<path d="M235.36 1976.02V2039.95M224.56 1976.02h21.6M224.56 2039.95h21.6M297.54 1992.88V2041.71M286.74 1992.88h21.6M286.74 2041.71h21.6M359.71 1987.26V2022.39M348.91 1987.26h21.6M348.91 2022.39h21.6M421.89 1993.58V2038.19M411.09 1993.58h21.6M411.09 2038.19h21.6M484.07 2000.61V2039.95M473.27 2000.61h21.6M473.27 2039.95h21.6M546.25 1981.99V2015.36M535.45 1981.99h21.6M535.45 2015.36h21.6M608.83 1999.55V2041.71M598.03 1999.55h21.6M598.03 2041.71h21.6M671.01 2013.6V2041.71M660.21 2013.6h21.6M660.21 2041.71h21.6M733.18 2001.31V2039.95M722.38 2001.31h21.6M722.38 2039.95h21.6M795.71 1990.77V2036.44M784.91 1990.77h21.6M784.91 2036.44h21.6M857.89 1985.5V2022.39M847.09 1985.5h21.6M847.09 2022.39h21.6M920.07 1971.45V2025.9M909.27 1971.45h21.6M909.27 2025.9h21.6M982.24 1998.5V2036.44M971.44 1998.5h21.6M971.44 2036.44h21.6M1044.77 1983.74V2018.87M1033.97 1983.74h21.6M1033.97 2018.87h21.6M1106.95 1976.72V2018.87M1096.15 1976.72h21.6M1096.15 2018.87h21.6M1169.91 1990.77V2032.92M1159.11 1990.77h21.6M1159.11 2032.92h21.6M1232.08 1978.48V2025.9M1221.28 1978.48h21.6M1221.28 2025.9h21.6M1294.26 1920.51V1990.77M1283.46 1920.51h21.6M1283.46 1990.77h21.6M1356.44 1906.46V1948.62M1345.64 1906.46h21.6M1345.64 1948.62h21.6M1418.91 1874.85V1913.49M1408.11 1874.85h21.6M1408.11 1913.49h21.6M1481.09 1864.31V1899.44M1470.29 1864.31h21.6M1470.29 1899.44h21.6M1543.62 1902.95V1962.67M1532.82 1902.95h21.6M1532.82 1962.67h21.6M1605.8 1864.31V1895.92M1595 1864.31h21.6M1595 1895.92h21.6M1667.97 1976.72V2025.9M1657.17 1976.72h21.6M1657.17 2025.9h21.6M1730.5 1959.15V1990.77M1719.7 1959.15h21.6M1719.7 1990.77h21.6M1792.68 1987.96V2032.92M1781.88 1987.96h21.6M1781.88 2032.92h21.6M1854.86 1992.53V2018.87M1844.06 1992.53h21.6M1844.06 2018.87h21.6M1917.38 1985.5V2011.85M1906.58 1985.5h21.6M1906.58 2011.85h21.6" stroke="#000" stroke-width="2.05" fill="none"/>
<g stroke="#000" stroke-width="2.05" fill="none"><circle cx="235.36" cy="1978.48" r="5.45"/><circle cx="243.16" cy="1981.13" r="5.45"/><circle cx="235.36" cy="1986.94" r="5.45"/><circle cx="243.16" cy="1988.85" r="5.45"/><circle cx="235.36" cy="1995.72" r="5.45"/><circle cx="227.56" cy="1997.97" r="5.45"/><circle cx="235.36" cy="2003.33" r="5.45"/><circle cx="243.16" cy="2003.97" r="5.45"/><circle cx="227.56" cy="2004.45" r="5.45"/><circle cx="250.96" cy="2006.46" r="5.45"/><circle cx="219.76" cy="2006.73" r="5.45"/><circle cx="235.36" cy="2015.1" r="5.45"/><circle cx="227.56" cy="2016.89" r="5.45"/><circle cx="243.16" cy="2017.72" r="5.45"/><circle cx="222.36" cy="2020.8" r="5.45"/><circle cx="235.36" cy="2022.07" r="5.45"/><circle cx="248.36" cy="2023.51" r="5.45"/><circle cx="235.36" cy="2028.85" r="5.45"/><circle cx="243.16" cy="2029.31" r="5.45"/><circle cx="227.56" cy="2029.62" r="5.45"/><circle cx="222.36" cy="2033.41" r="5.45"/><circle cx="248.36" cy="2033.58" r="5.45"/><circle cx="237.96" cy="2035.07" r="5.45"/><circle cx="240.36" cy="2035.4" r="5.45"/><circle cx="230.36" cy="2035.41" r="5.45"/><circle cx="224.96" cy="2040.62" r="5.45"/><circle cx="235.36" cy="2041.96" r="5.45"/><circle cx="230.16" cy="2046.98" r="5.45"/><circle cx="235.36" cy="1914.19" r="5.45"/><circle cx="235.36" cy="1974.26" r="5.45"/><circle cx="297.54" cy="1997.8" r="5.45"/><circle cx="302.74" cy="2001.91" r="5.45"/><circle cx="294.94" cy="2003.89" r="5.45"/><circle cx="287.14" cy="2006.07" r="5.45"/><circle cx="307.94" cy="2007.68" r="5.45"/><circle cx="300.14" cy="2007.8" r="5.45"/><circle cx="302.54" cy="2008.44" r="5.45"/><circle cx="310.54" cy="2009.13" r="5.45"/><circle cx="294.94" cy="2012.76" r="5.45"/><circle cx="302.74" cy="2015.71" r="5.45"/><circle cx="287.14" cy="2016.29" r="5.45"/><circle cx="310.54" cy="2016.65" r="5.45"/><circle cx="294.94" cy="2019.24" r="5.45"/><circle cx="297.54" cy="2019.74" r="5.45"/><circle cx="281.94" cy="2021.28" r="5.45"/><circle cx="305.34" cy="2021.8" r="5.45"/><circle cx="306.54" cy="2021.86" r="5.45"/><circle cx="313.14" cy="2022.93" r="5.45"/><circle cx="289.74" cy="2025.01" r="5.45"/><circle cx="297.54" cy="2027.26" r="5.45"/><circle cx="305.34" cy="2028.58" r="5.45"/><circle cx="292.34" cy="2032.33" r="5.45"/><circle cx="284.54" cy="2032.42" r="5.45"/><circle cx="300.14" cy="2033.98" r="5.45"/><circle cx="307.94" cy="2034.54" r="5.45"/><circle cx="310.54" cy="2037.25" r="5.45"/><circle cx="297.54" cy="2041.49" r="5.45"/><circle cx="292.34" cy="2046.98" r="5.45"/><circle cx="297.54" cy="1937.02" r="5.45"/><circle cx="297.54" cy="1976.72" r="5.45"/><circle cx="359.71" cy="1980.23" r="5.45"/><circle cx="354.51" cy="1984.61" r="5.45"/><circle cx="362.31" cy="1987.79" r="5.45"/><circle cx="370.11" cy="1990.05" r="5.45"/><circle cx="349.31" cy="1990.16" r="5.45"/><circle cx="350.71" cy="1990.34" r="5.45"/><circle cx="354.71" cy="1991.17" r="5.45"/><circle cx="362.31" cy="1994.73" r="5.45"/><circle cx="344.11" cy="1995.66" r="5.45"/><circle cx="375.31" cy="1995.8" r="5.45"/><circle cx="350.71" cy="1995.92" r="5.45"/><circle cx="354.71" cy="1996.26" r="5.45"/><circle cx="368.71" cy="1997.83" r="5.45"/><circle cx="350.71" cy="1998.68" r="5.45"/><circle cx="354.71" cy="1999.18" r="5.45"/><circle cx="368.71" cy="2001.13" r="5.45"/><circle cx="362.31" cy="2002.91" r="5.45"/><circle cx="346.71" cy="2004.51" r="5.45"/><circle cx="357.11" cy="2008.44" r="5.45"/><circle cx="367.51" cy="2008.57" r="5.45"/><circle cx="375.31" cy="2008.84" r="5.45"/><circle cx="349.31" cy="2011.59" r="5.45"/><circle cx="362.31" cy="2013.45" r="5.45"/><circle cx="346.71" cy="2013.72" r="5.45"/><circle cx="370.11" cy="2014.89" r="5.45"/><circle cx="354.51" cy="2017.14" r="5.45"/><circle cx="368.71" cy="2017.25" r="5.45"/><circle cx="375.31" cy="2019.68" r="5.45"/><circle cx="359.71" cy="2022.39" r="5.45"/><circle cx="364.28" cy="1971.8" r="5.45"/><circle cx="421.89" cy="1999.55" r="5.45"/><circle cx="416.69" cy="2004.03" r="5.45"/><circle cx="424.49" cy="2005.57" r="5.45"/><circle cx="432.29" cy="2006.57" r="5.45"/><circle cx="411.49" cy="2008.45" r="5.45"/><circle cx="421.89" cy="2011.93" r="5.45"/><circle cx="437.49" cy="2012.36" r="5.45"/><circle cx="429.69" cy="2012.82" r="5.45"/><circle cx="416.69" cy="2015.85" r="5.45"/><circle cx="408.89" cy="2016.61" r="5.45"/><circle cx="424.49" cy="2018.2" r="5.45"/><circle cx="432.29" cy="2019.61" r="5.45"/><circle cx="421.89" cy="2020.49" r="5.45"/><circle cx="430.89" cy="2021.25" r="5.45"/><circle cx="414.09" cy="2022.32" r="5.45"/><circle cx="406.29" cy="2022.62" r="5.45"/><circle cx="426.89" cy="2023.27" r="5.45"/><circle cx="437.49" cy="2023.8" r="5.45"/><circle cx="412.89" cy="2026.24" r="5.45"/><circle cx="419.29" cy="2026.52" r="5.45"/><circle cx="432.29" cy="2027.82" r="5.45"/><circle cx="424.49" cy="2030.58" r="5.45"/><circle cx="408.89" cy="2031.44" r="5.45"/><circle cx="416.69" cy="2033.78" r="5.45"/><circle cx="434.89" cy="2033.82" r="5.45"/><circle cx="430.89" cy="2034.04" r="5.45"/><circle cx="424.49" cy="2037.29" r="5.45"/><circle cx="414.09" cy="2039.99" r="5.45"/><circle cx="429.69" cy="2041.71" r="5.45"/><circle cx="421.89" cy="1937.02" r="5.45"/><circle cx="484.07" cy="1997.8" r="5.45"/><circle cx="491.87" cy="2000.33" r="5.45"/><circle cx="478.87" cy="2002.24" r="5.45"/><circle cx="471.07" cy="2003.72" r="5.45"/><circle cx="484.07" cy="2007.09" r="5.45"/><circle cx="491.87" cy="2007.3" r="5.45"/><circle cx="476.27" cy="2008.15" r="5.45"/><circle cx="499.67" cy="2008.71" r="5.45"/><circle cx="471.07" cy="2009.29" r="5.45"/><circle cx="486.67" cy="2013.48" r="5.45"/><circle cx="478.87" cy="2015.49" r="5.45"/><circle cx="494.47" cy="2016.19" r="5.45"/><circle cx="471.07" cy="2017.79" r="5.45"/><circle cx="493.07" cy="2019.28" r="5.45"/><circle cx="484.07" cy="2020.23" r="5.45"/><circle cx="476.27" cy="2023.53" r="5.45"/><circle cx="497.07" cy="2024.35" r="5.45"/><circle cx="468.47" cy="2024.4" r="5.45"/><circle cx="484.07" cy="2026.76" r="5.45"/><circle cx="497.07" cy="2027.24" r="5.45"/><circle cx="473.67" cy="2029.65" r="5.45"/><circle cx="484.07" cy="2036.58" r="5.45"/><circle cx="476.27" cy="2037.18" r="5.45"/><circle cx="484.07" cy="2044.54" r="5.45"/><circle cx="476.27" cy="2045.23" r="5.45"/><circle cx="491.87" cy="2046.98" r="5.45"/><circle cx="483.02" cy="1968.99" r="5.45"/><circle cx="486.53" cy="1966.18" r="5.45"/><circle cx="484.07" cy="1987.26" r="5.45"/><circle cx="484.07" cy="1991.47" r="5.45"/><circle cx="546.25" cy="1976.72" r="5.45"/><circle cx="538.45" cy="1977.91" r="5.45"/><circle cx="554.05" cy="1979.61" r="5.45"/><circle cx="546.25" cy="1985.12" r="5.45"/><circle cx="538.45" cy="1987.4" r="5.45"/><circle cx="551.45" cy="1989.37" r="5.45"/><circle cx="559.25" cy="1989.93" r="5.45"/><circle cx="530.65" cy="1990.36" r="5.45"/><circle cx="543.65" cy="1991.36" r="5.45"/><circle cx="559.25" cy="1993.69" r="5.45"/><circle cx="548.85" cy="1995.67" r="5.45"/><circle cx="541.05" cy="1997.27" r="5.45"/><circle cx="533.25" cy="1997.32" r="5.45"/><circle cx="533.25" cy="1997.38" r="5.45"/><circle cx="541.25" cy="1998.46" r="5.45"/><circle cx="546.25" cy="2002.77" r="5.45"/><circle cx="554.05" cy="2003.33" r="5.45"/><circle cx="541.05" cy="2007.66" r="5.45"/><circle cx="548.85" cy="2008.9" r="5.45"/><circle cx="535.85" cy="2011.89" r="5.45"/><circle cx="556.65" cy="2012.29" r="5.45"/><circle cx="546.25" cy="2015.14" r="5.45"/><circle cx="551.25" cy="2015.15" r="5.45"/><circle cx="538.45" cy="2017.97" r="5.45"/><circle cx="559.25" cy="2018.19" r="5.45"/><circle cx="530.65" cy="2019.52" r="5.45"/><circle cx="546.25" cy="2022.39" r="5.45"/><circle cx="546.95" cy="1968.29" r="5.45"/><circle cx="557.49" cy="1975.67" r="5.45"/><circle cx="537.46" cy="1978.48" r="5.45"/><circle cx="608.83" cy="1990.77" r="5.45"/><circle cx="601.03" cy="1991.8" r="5.45"/><circle cx="616.63" cy="1992.07" r="5.45"/><circle cx="593.23" cy="1993.72" r="5.45"/><circle cx="608.83" cy="1998.65" r="5.45"/><circle cx="606.23" cy="2004.9" r="5.45"/><circle cx="614.03" cy="2005.75" r="5.45"/><circle cx="598.43" cy="2006.04" r="5.45"/><circle cx="621.83" cy="2006.16" r="5.45"/><circle cx="621.83" cy="2006.52" r="5.45"/><circle cx="593.23" cy="2010.14" r="5.45"/><circle cx="608.83" cy="2016.35" r="5.45"/><circle cx="616.63" cy="2016.62" r="5.45"/><circle cx="601.03" cy="2017.7" r="5.45"/><circle cx="624.43" cy="2017.85" r="5.45"/><circle cx="593.23" cy="2017.96" r="5.45"/><circle cx="608.83" cy="2021.76" r="5.45"/><circle cx="599.83" cy="2021.94" r="5.45"/><circle cx="616.63" cy="2024.75" r="5.45"/><circle cx="608.83" cy="2028.63" r="5.45"/><circle cx="616.63" cy="2031.54" r="5.45"/><circle cx="608.83" cy="2036.3" r="5.45"/><circle cx="601.03" cy="2039.27" r="5.45"/><circle cx="616.63" cy="2039.94" r="5.45"/><circle cx="608.83" cy="2044.84" r="5.45"/><circle cx="598.43" cy="2045.23" r="5.45"/><circle cx="621.83" cy="2045.53" r="5.45"/><circle cx="614.03" cy="2048.73" r="5.45"/><circle cx="609.18" cy="1977.42" r="5.45"/><circle cx="607.42" cy="1983.04" r="5.45"/><circle cx="671.01" cy="1999.55" r="5.45"/><circle cx="678.81" cy="2002.85" r="5.45"/><circle cx="665.81" cy="2004.41" r="5.45"/><circle cx="658.01" cy="2005.46" r="5.45"/><circle cx="673.61" cy="2006.6" r="5.45"/><circle cx="681.41" cy="2008.74" r="5.45"/><circle cx="676.01" cy="2008.98" r="5.45"/><circle cx="680.01" cy="2009.84" r="5.45"/><circle cx="668.41" cy="2010.59" r="5.45"/><circle cx="680.01" cy="2010.75" r="5.45"/><circle cx="660.61" cy="2013.45" r="5.45"/><circle cx="686.61" cy="2013.74" r="5.45"/><circle cx="673.61" cy="2015.43" r="5.45"/><circle cx="671.01" cy="2015.61" r="5.45"/><circle cx="681.41" cy="2018.69" r="5.45"/><circle cx="665.81" cy="2020.3" r="5.45"/><circle cx="658.01" cy="2020.46" r="5.45"/><circle cx="680.01" cy="2020.74" r="5.45"/><circle cx="673.61" cy="2022.43" r="5.45"/><circle cx="686.61" cy="2024.57" r="5.45"/><circle cx="668.41" cy="2026.78" r="5.45"/><circle cx="660.61" cy="2026.99" r="5.45"/><circle cx="678.81" cy="2027.79" r="5.45"/><circle cx="680.01" cy="2028.67" r="5.45"/><circle cx="673.61" cy="2032.24" r="5.45"/><circle cx="665.81" cy="2033.03" r="5.45"/><circle cx="678.81" cy="2036.16" r="5.45"/><circle cx="658.01" cy="2036.39" r="5.45"/><circle cx="671.01" cy="2038.31" r="5.45"/><circle cx="671.01" cy="2046.98" r="5.45"/><circle cx="733.18" cy="2001.31" r="5.45"/><circle cx="725.38" cy="2004.31" r="5.45"/><circle cx="738.38" cy="2005.35" r="5.45"/><circle cx="730.58" cy="2009.05" r="5.45"/><circle cx="722.78" cy="2010.95" r="5.45"/><circle cx="738.38" cy="2012.52" r="5.45"/><circle cx="746.18" cy="2014.81" r="5.45"/><circle cx="730.58" cy="2015.81" r="5.45"/><circle cx="717.58" cy="2016" r="5.45"/><circle cx="740.98" cy="2018.81" r="5.45"/><circle cx="725.38" cy="2020.01" r="5.45"/><circle cx="748.78" cy="2020.68" r="5.45"/><circle cx="733.18" cy="2022.99" r="5.45"/><circle cx="720.18" cy="2023.8" r="5.45"/><circle cx="733.18" cy="2024.62" r="5.45"/><circle cx="740.98" cy="2027.05" r="5.45"/><circle cx="748.78" cy="2027.17" r="5.45"/><circle cx="725.38" cy="2027.8" r="5.45"/><circle cx="733.18" cy="2031.16" r="5.45"/><circle cx="717.58" cy="2031.18" r="5.45"/><circle cx="743.58" cy="2033.39" r="5.45"/><circle cx="733.18" cy="2033.79" r="5.45"/><circle cx="725.38" cy="2036.27" r="5.45"/><circle cx="738.38" cy="2038.34" r="5.45"/><circle cx="748.78" cy="2039.21" r="5.45"/><circle cx="733.18" cy="2042.53" r="5.45"/><circle cx="725.38" cy="2044.02" r="5.45"/><circle cx="738.38" cy="2046.98" r="5.45"/><circle cx="734.59" cy="1975.67" r="5.45"/><circle cx="732.13" cy="1990.77" r="5.45"/><circle cx="795.71" cy="1987.26" r="5.45"/><circle cx="795.71" cy="1997.24" r="5.45"/><circle cx="787.91" cy="1998.89" r="5.45"/><circle cx="803.51" cy="1999.89" r="5.45"/><circle cx="780.11" cy="2000.08" r="5.45"/><circle cx="811.31" cy="2001.71" r="5.45"/><circle cx="800.71" cy="2002.15" r="5.45"/><circle cx="795.71" cy="2006.2" r="5.45"/><circle cx="787.91" cy="2008.58" r="5.45"/><circle cx="803.51" cy="2008.73" r="5.45"/><circle cx="811.31" cy="2009.44" r="5.45"/><circle cx="780.11" cy="2010.86" r="5.45"/><circle cx="786.71" cy="2011.35" r="5.45"/><circle cx="795.71" cy="2013.58" r="5.45"/><circle cx="786.71" cy="2013.88" r="5.45"/><circle cx="804.71" cy="2013.92" r="5.45"/><circle cx="780.11" cy="2018.81" r="5.45"/><circle cx="795.71" cy="2020.82" r="5.45"/><circle cx="803.51" cy="2021.83" r="5.45"/><circle cx="787.91" cy="2022.47" r="5.45"/><circle cx="811.31" cy="2022.84" r="5.45"/><circle cx="804.71" cy="2023.78" r="5.45"/><circle cx="798.31" cy="2026.82" r="5.45"/><circle cx="782.71" cy="2027.9" r="5.45"/><circle cx="790.51" cy="2029.01" r="5.45"/><circle cx="803.51" cy="2030.79" r="5.45"/><circle cx="795.71" cy="2038.64" r="5.45"/><circle cx="795.71" cy="2046.98" r="5.45"/><circle cx="795.71" cy="1939.13" r="5.45"/><circle cx="795.71" cy="1968.99" r="5.45"/><circle cx="857.89" cy="1976.72" r="5.45"/><circle cx="857.89" cy="1983.76" r="5.45"/><circle cx="865.69" cy="1984.19" r="5.45"/><circle cx="850.09" cy="1986.62" r="5.45"/><circle cx="842.29" cy="1986.76" r="5.45"/><circle cx="870.89" cy="1988.88" r="5.45"/><circle cx="857.89" cy="1990.65" r="5.45"/><circle cx="866.89" cy="1990.68" r="5.45"/><circle cx="847.49" cy="1992.61" r="5.45"/><circle cx="844.89" cy="1994.28" r="5.45"/><circle cx="857.89" cy="1998.22" r="5.45"/><circle cx="863.09" cy="2002.89" r="5.45"/><circle cx="855.29" cy="2006.59" r="5.45"/><circle cx="868.29" cy="2007.56" r="5.45"/><circle cx="847.49" cy="2009.04" r="5.45"/><circle cx="862.89" cy="2009.56" r="5.45"/><circle cx="873.49" cy="2011.79" r="5.45"/><circle cx="857.89" cy="2016.18" r="5.45"/><circle cx="865.69" cy="2016.49" r="5.45"/><circle cx="850.09" cy="2018.76" r="5.45"/><circle cx="842.29" cy="2019.19" r="5.45"/><circle cx="870.89" cy="2020.34" r="5.45"/><circle cx="862.89" cy="2020.37" r="5.45"/><circle cx="857.89" cy="2024.83" r="5.45"/><circle cx="852.69" cy="2028.79" r="5.45"/><circle cx="863.09" cy="2030.2" r="5.45"/><circle cx="870.89" cy="2031.49" r="5.45"/><circle cx="857.89" cy="2038.19" r="5.45"/><circle cx="858.94" cy="1953.18" r="5.45"/><circle cx="856.83" cy="1958.45" r="5.45"/><circle cx="920.07" cy="1962.67" r="5.45"/><circle cx="914.87" cy="1966.75" r="5.45"/><circle cx="920.07" cy="1975.73" r="5.45"/><circle cx="920.07" cy="1984.02" r="5.45"/><circle cx="912.27" cy="1985.86" r="5.45"/><circle cx="927.87" cy="1986.04" r="5.45"/><circle cx="920.07" cy="1990.7" r="5.45"/><circle cx="912.27" cy="1992.53" r="5.45"/><circle cx="927.87" cy="1993.63" r="5.45"/><circle cx="904.47" cy="1995.56" r="5.45"/><circle cx="935.67" cy="1996.14" r="5.45"/><circle cx="920.07" cy="1999.4" r="5.45"/><circle cx="920.07" cy="2005.9" r="5.45"/><circle cx="927.87" cy="2006.28" r="5.45"/><circle cx="912.27" cy="2006.91" r="5.45"/><circle cx="933.07" cy="2010.11" r="5.45"/><circle cx="907.07" cy="2011.19" r="5.45"/><circle cx="920.07" cy="2014.35" r="5.45"/><circle cx="912.27" cy="2016.96" r="5.45"/><circle cx="927.87" cy="2018.06" r="5.45"/><circle cx="920.07" cy="2022.46" r="5.45"/><circle cx="912.27" cy="2025.17" r="5.45"/><circle cx="922.67" cy="2028.42" r="5.45"/><circle cx="930.47" cy="2030.57" r="5.45"/><circle cx="920.07" cy="2036.26" r="5.45"/><circle cx="927.87" cy="2038.88" r="5.45"/><circle cx="912.27" cy="2038.89" r="5.45"/><circle cx="920.07" cy="2043.46" r="5.45"/><circle cx="920.42" cy="1922.62" r="5.45"/><circle cx="926.04" cy="1954.94" r="5.45"/><circle cx="982.24" cy="1990.77" r="5.45"/><circle cx="990.04" cy="1993.23" r="5.45"/><circle cx="974.44" cy="1994.05" r="5.45"/><circle cx="997.84" cy="1996.08" r="5.45"/><circle cx="966.64" cy="1996.47" r="5.45"/><circle cx="982.24" cy="1997.28" r="5.45"/><circle cx="977.24" cy="1997.97" r="5.45"/><circle cx="987.44" cy="2001.04" r="5.45"/><circle cx="971.84" cy="2002.66" r="5.45"/><circle cx="982.24" cy="2007.8" r="5.45"/><circle cx="990.04" cy="2008.17" r="5.45"/><circle cx="974.44" cy="2010.1" r="5.45"/><circle cx="966.64" cy="2011.69" r="5.45"/><circle cx="995.24" cy="2012.99" r="5.45"/><circle cx="982.24" cy="2015.65" r="5.45"/><circle cx="990.04" cy="2017.95" r="5.45"/><circle cx="982.24" cy="2023.78" r="5.45"/><circle cx="974.44" cy="2024.09" r="5.45"/><circle cx="990.04" cy="2025.76" r="5.45"/><circle cx="966.64" cy="2026.5" r="5.45"/><circle cx="997.84" cy="2029.24" r="5.45"/><circle cx="982.24" cy="2031.4" r="5.45"/><circle cx="974.44" cy="2034.42" r="5.45"/><circle cx="987.44" cy="2036.69" r="5.45"/><circle cx="995.24" cy="2036.69" r="5.45"/><circle cx="966.64" cy="2037.03" r="5.45"/><circle cx="979.64" cy="2039.91" r="5.45"/><circle cx="987.44" cy="2043.46" r="5.45"/><circle cx="982.24" cy="1954.24" r="5.45"/><circle cx="984" cy="1980.23" r="5.45"/><circle cx="1044.77" cy="1978.48" r="5.45"/><circle cx="1036.97" cy="1979.83" r="5.45"/><circle cx="1049.97" cy="1983.67" r="5.45"/><circle cx="1042.17" cy="1985" r="5.45"/><circle cx="1047.37" cy="1989.68" r="5.45"/><circle cx="1039.57" cy="1992.29" r="5.45"/><circle cx="1055.17" cy="1993.27" r="5.45"/><circle cx="1031.77" cy="1994.27" r="5.45"/><circle cx="1057.77" cy="1995.6" r="5.45"/><circle cx="1044.77" cy="2000.32" r="5.45"/><circle cx="1036.97" cy="2001.55" r="5.45"/><circle cx="1052.57" cy="2003.22" r="5.45"/><circle cx="1060.37" cy="2004.84" r="5.45"/><circle cx="1029.17" cy="2005.14" r="5.45"/><circle cx="1044.77" cy="2009.11" r="5.45"/><circle cx="1052.57" cy="2009.94" r="5.45"/><circle cx="1036.97" cy="2010.65" r="5.45"/><circle cx="1053.77" cy="2010.77" r="5.45"/><circle cx="1031.77" cy="2010.95" r="5.45"/><circle cx="1049.77" cy="2011.14" r="5.45"/><circle cx="1060.37" cy="2011.32" r="5.45"/><circle cx="1031.77" cy="2011.47" r="5.45"/><circle cx="1039.77" cy="2011.79" r="5.45"/><circle cx="1031.77" cy="2012.71" r="5.45"/><circle cx="1044.77" cy="2016.02" r="5.45"/><circle cx="1049.77" cy="2016.69" r="5.45"/><circle cx="1057.77" cy="2017.31" r="5.45"/><circle cx="1042.17" cy="2022.39" r="5.45"/><circle cx="1045.12" cy="1949.67" r="5.45"/><circle cx="1047.58" cy="1973.91" r="5.45"/><circle cx="1106.95" cy="1969.69" r="5.45"/><circle cx="1114.75" cy="1971.44" r="5.45"/><circle cx="1099.15" cy="1973.01" r="5.45"/><circle cx="1106.95" cy="1979.65" r="5.45"/><circle cx="1114.75" cy="1980.49" r="5.45"/><circle cx="1099.15" cy="1980.84" r="5.45"/><circle cx="1122.55" cy="1983.66" r="5.45"/><circle cx="1091.35" cy="1983.95" r="5.45"/><circle cx="1101.95" cy="1985.48" r="5.45"/><circle cx="1109.55" cy="1985.74" r="5.45"/><circle cx="1115.95" cy="1985.83" r="5.45"/><circle cx="1093.95" cy="1986.57" r="5.45"/><circle cx="1119.95" cy="1986.94" r="5.45"/><circle cx="1093.95" cy="1990.96" r="5.45"/><circle cx="1106.95" cy="1992.33" r="5.45"/><circle cx="1114.75" cy="1993.22" r="5.45"/><circle cx="1122.55" cy="1993.57" r="5.45"/><circle cx="1106.95" cy="1993.77" r="5.45"/><circle cx="1099.15" cy="1995.56" r="5.45"/><circle cx="1091.35" cy="1997.31" r="5.45"/><circle cx="1115.95" cy="1997.33" r="5.45"/><circle cx="1097.95" cy="1997.33" r="5.45"/><circle cx="1111.95" cy="1998.02" r="5.45"/><circle cx="1093.95" cy="1998.02" r="5.45"/><circle cx="1106.95" cy="2009.19" r="5.45"/><circle cx="1114.75" cy="2010.75" r="5.45"/><circle cx="1106.95" cy="2022.08" r="5.45"/><circle cx="1099.15" cy="2022.39" r="5.45"/><circle cx="1107.3" cy="1942.64" r="5.45"/><circle cx="1109.06" cy="1960.21" r="5.45"/><circle cx="1169.91" cy="1983.74" r="5.45"/><circle cx="1175.11" cy="1989.49" r="5.45"/><circle cx="1167.31" cy="1989.71" r="5.45"/><circle cx="1159.51" cy="1990.61" r="5.45"/><circle cx="1180.31" cy="1994.08" r="5.45"/><circle cx="1172.51" cy="1995.51" r="5.45"/><circle cx="1164.71" cy="1995.89" r="5.45"/><circle cx="1177.71" cy="2000.99" r="5.45"/><circle cx="1169.91" cy="2002.71" r="5.45"/><circle cx="1162.11" cy="2004.85" r="5.45"/><circle cx="1182.91" cy="2005.68" r="5.45"/><circle cx="1175.11" cy="2006.97" r="5.45"/><circle cx="1167.31" cy="2009.76" r="5.45"/><circle cx="1180.31" cy="2012.38" r="5.45"/><circle cx="1172.51" cy="2015.37" r="5.45"/><circle cx="1164.71" cy="2017.19" r="5.45"/><circle cx="1156.91" cy="2017.39" r="5.45"/><circle cx="1182.91" cy="2018.67" r="5.45"/><circle cx="1178.91" cy="2018.97" r="5.45"/><circle cx="1169.91" cy="2020.96" r="5.45"/><circle cx="1162.11" cy="2023.67" r="5.45"/><circle cx="1154.31" cy="2024.3" r="5.45"/><circle cx="1175.11" cy="2025.08" r="5.45"/><circle cx="1182.91" cy="2025.55" r="5.45"/><circle cx="1174.91" cy="2027.37" r="5.45"/><circle cx="1167.31" cy="2029.85" r="5.45"/><circle cx="1169.91" cy="2040.31" r="5.45"/><circle cx="1169.91" cy="2046.98" r="5.45"/><circle cx="1171.31" cy="1947.91" r="5.45"/><circle cx="1168.5" cy="1955.64" r="5.45"/><circle cx="1232.08" cy="1974.96" r="5.45"/><circle cx="1239.88" cy="1976.75" r="5.45"/><circle cx="1224.28" cy="1976.77" r="5.45"/><circle cx="1229.48" cy="1981.29" r="5.45"/><circle cx="1232.08" cy="1990.14" r="5.45"/><circle cx="1239.88" cy="1992.06" r="5.45"/><circle cx="1224.28" cy="1992.61" r="5.45"/><circle cx="1247.68" cy="1993.94" r="5.45"/><circle cx="1216.48" cy="1994.62" r="5.45"/><circle cx="1232.08" cy="1998.81" r="5.45"/><circle cx="1239.88" cy="1999.21" r="5.45"/><circle cx="1224.28" cy="2001.17" r="5.45"/><circle cx="1216.48" cy="2002.16" r="5.45"/><circle cx="1229.48" cy="2005.13" r="5.45"/><circle cx="1237.28" cy="2005.64" r="5.45"/><circle cx="1221.68" cy="2007.34" r="5.45"/><circle cx="1245.08" cy="2008.86" r="5.45"/><circle cx="1227.08" cy="2009.07" r="5.45"/><circle cx="1216.48" cy="2011.41" r="5.45"/><circle cx="1234.68" cy="2012.92" r="5.45"/><circle cx="1232.08" cy="2019.98" r="5.45"/><circle cx="1239.88" cy="2022.58" r="5.45"/><circle cx="1224.28" cy="2023.02" r="5.45"/><circle cx="1232.08" cy="2027.44" r="5.45"/><circle cx="1219.08" cy="2027.88" r="5.45"/><circle cx="1239.88" cy="2030.52" r="5.45"/><circle cx="1232.08" cy="2039.95" r="5.45"/><circle cx="1233.49" cy="1944.05" r="5.45"/><circle cx="1229.98" cy="1955.64" r="5.45"/><circle cx="1232.79" cy="1964.42" r="5.45"/><circle cx="1294.26" cy="1902.95" r="5.45"/><circle cx="1294.26" cy="1909.47" r="5.45"/><circle cx="1291.66" cy="1915.78" r="5.45"/><circle cx="1299.46" cy="1916" r="5.45"/><circle cx="1283.86" cy="1916.78" r="5.45"/><circle cx="1307.26" cy="1917.23" r="5.45"/><circle cx="1294.26" cy="1927.19" r="5.45"/><circle cx="1299.46" cy="1930.93" r="5.45"/><circle cx="1291.66" cy="1934.55" r="5.45"/><circle cx="1304.66" cy="1935.3" r="5.45"/><circle cx="1294.26" cy="1942.93" r="5.45"/><circle cx="1302.06" cy="1944.83" r="5.45"/><circle cx="1289.06" cy="1948.01" r="5.45"/><circle cx="1294.26" cy="1952.31" r="5.45"/><circle cx="1302.06" cy="1955.35" r="5.45"/><circle cx="1294.26" cy="1971.05" r="5.45"/><circle cx="1302.06" cy="1974.38" r="5.45"/><circle cx="1291.66" cy="1977.03" r="5.45"/><circle cx="1294.26" cy="1983.6" r="5.45"/><circle cx="1294.26" cy="1991.25" r="5.45"/><circle cx="1302.06" cy="1991.31" r="5.45"/><circle cx="1286.46" cy="1992.82" r="5.45"/><circle cx="1307.26" cy="1996.53" r="5.45"/><circle cx="1294.26" cy="2000.52" r="5.45"/><circle cx="1299.46" cy="2005.75" r="5.45"/><circle cx="1289.06" cy="2006.18" r="5.45"/><circle cx="1281.26" cy="2006.69" r="5.45"/><circle cx="1307.26" cy="2007.36" r="5.45"/><circle cx="1294.26" cy="2015.45" r="5.45"/><circle cx="1299.46" cy="2020.63" r="5.45"/><circle cx="1356.44" cy="1888.9" r="5.45"/><circle cx="1356.44" cy="1896.3" r="5.45"/><circle cx="1348.64" cy="1897.79" r="5.45"/><circle cx="1356.44" cy="1902.98" r="5.45"/><circle cx="1364.24" cy="1903.91" r="5.45"/><circle cx="1348.64" cy="1905.82" r="5.45"/><circle cx="1356.44" cy="1912.63" r="5.45"/><circle cx="1356.44" cy="1922.94" r="5.45"/><circle cx="1364.24" cy="1924.76" r="5.45"/><circle cx="1348.64" cy="1924.95" r="5.45"/><circle cx="1372.04" cy="1924.96" r="5.45"/><circle cx="1340.84" cy="1926.81" r="5.45"/><circle cx="1343.44" cy="1927.07" r="5.45"/><circle cx="1365.44" cy="1927.49" r="5.45"/><circle cx="1365.44" cy="1927.82" r="5.45"/><circle cx="1356.44" cy="1928.66" r="5.45"/><circle cx="1351.44" cy="1929.82" r="5.45"/><circle cx="1356.44" cy="1930.39" r="5.45"/><circle cx="1361.64" cy="1934.79" r="5.45"/><circle cx="1356.44" cy="1938.62" r="5.45"/><circle cx="1348.64" cy="1939.89" r="5.45"/><circle cx="1366.84" cy="1940.42" r="5.45"/><circle cx="1340.84" cy="1940.89" r="5.45"/><circle cx="1356.44" cy="1945.9" r="5.45"/><circle cx="1356.44" cy="1952.73" r="5.45"/><circle cx="1351.24" cy="1956.65" r="5.45"/><circle cx="1361.64" cy="1957.58" r="5.45"/><circle cx="1356.44" cy="1962.67" r="5.45"/><circle cx="1356.44" cy="1976.02" r="5.45"/><circle cx="1356.44" cy="2033.63" r="5.45"/><circle cx="1418.91" cy="1869.58" r="5.45"/><circle cx="1424.11" cy="1873.93" r="5.45"/><circle cx="1413.71" cy="1874.07" r="5.45"/><circle cx="1405.91" cy="1874.1" r="5.45"/><circle cx="1418.91" cy="1878.59" r="5.45"/><circle cx="1411.11" cy="1881.77" r="5.45"/><circle cx="1426.71" cy="1882.14" r="5.45"/><circle cx="1434.51" cy="1883.14" r="5.45"/><circle cx="1418.91" cy="1885.14" r="5.45"/><circle cx="1403.31" cy="1885.44" r="5.45"/><circle cx="1413.71" cy="1889.33" r="5.45"/><circle cx="1421.51" cy="1892.21" r="5.45"/><circle cx="1429.31" cy="1894.51" r="5.45"/><circle cx="1413.71" cy="1895.77" r="5.45"/><circle cx="1405.91" cy="1895.95" r="5.45"/><circle cx="1427.91" cy="1897.68" r="5.45"/><circle cx="1434.51" cy="1898.35" r="5.45"/><circle cx="1421.51" cy="1899.26" r="5.45"/><circle cx="1405.91" cy="1900.24" r="5.45"/><circle cx="1418.91" cy="1905.12" r="5.45"/><circle cx="1411.11" cy="1905.14" r="5.45"/><circle cx="1426.71" cy="1905.73" r="5.45"/><circle cx="1405.91" cy="1910.37" r="5.45"/><circle cx="1418.91" cy="1916.35" r="5.45"/><circle cx="1411.11" cy="1916.68" r="5.45"/><circle cx="1426.71" cy="1917.58" r="5.45"/><circle cx="1418.91" cy="1924.03" r="5.45"/><circle cx="1418.56" cy="1840.42" r="5.45"/><circle cx="1421.02" cy="1861.85" r="5.45"/><circle cx="1418.56" cy="1950.02" r="5.45"/><circle cx="1481.09" cy="1848.5" r="5.45"/><circle cx="1475.89" cy="1853.41" r="5.45"/><circle cx="1481.09" cy="1858.96" r="5.45"/><circle cx="1488.89" cy="1860.8" r="5.45"/><circle cx="1473.29" cy="1860.98" r="5.45"/><circle cx="1465.49" cy="1861" r="5.45"/><circle cx="1478.49" cy="1865.27" r="5.45"/><circle cx="1483.69" cy="1870.24" r="5.45"/><circle cx="1475.89" cy="1871.16" r="5.45"/><circle cx="1491.49" cy="1873.46" r="5.45"/><circle cx="1468.09" cy="1873.76" r="5.45"/><circle cx="1486.09" cy="1874.14" r="5.45"/><circle cx="1490.09" cy="1874.32" r="5.45"/><circle cx="1472.09" cy="1875.18" r="5.45"/><circle cx="1478.49" cy="1877.12" r="5.45"/><circle cx="1496.69" cy="1877.71" r="5.45"/><circle cx="1486.09" cy="1877.74" r="5.45"/><circle cx="1468.09" cy="1881.15" r="5.45"/><circle cx="1481.09" cy="1886.05" r="5.45"/><circle cx="1481.09" cy="1892.6" r="5.45"/><circle cx="1473.29" cy="1893.83" r="5.45"/><circle cx="1488.89" cy="1894.02" r="5.45"/><circle cx="1496.69" cy="1896.33" r="5.45"/><circle cx="1481.09" cy="1899.44" r="5.45"/><circle cx="1481.09" cy="1912.79" r="5.45"/><circle cx="1477.58" cy="1932.81" r="5.45"/><circle cx="1484.6" cy="1931.75" r="5.45"/><circle cx="1481.09" cy="1941.59" r="5.45"/><circle cx="1481.09" cy="1957.75" r="5.45"/><circle cx="1481.09" cy="1974.96" r="5.45"/><circle cx="1543.62" cy="1901.19" r="5.45"/><circle cx="1543.62" cy="1922.77" r="5.45"/><circle cx="1543.62" cy="1931.04" r="5.45"/><circle cx="1535.82" cy="1931.9" r="5.45"/><circle cx="1543.62" cy="1941.25" r="5.45"/><circle cx="1551.42" cy="1943.09" r="5.45"/><circle cx="1535.82" cy="1944.71" r="5.45"/><circle cx="1528.02" cy="1945.23" r="5.45"/><circle cx="1543.62" cy="1948.22" r="5.45"/><circle cx="1551.42" cy="1950.26" r="5.45"/><circle cx="1535.82" cy="1951.27" r="5.45"/><circle cx="1528.02" cy="1952.91" r="5.45"/><circle cx="1559.22" cy="1953.01" r="5.45"/><circle cx="1543.62" cy="1957.84" r="5.45"/><circle cx="1535.82" cy="1961.15" r="5.45"/><circle cx="1548.82" cy="1961.97" r="5.45"/><circle cx="1556.62" cy="1964.27" r="5.45"/><circle cx="1543.62" cy="1965.95" r="5.45"/><circle cx="1530.62" cy="1965.98" r="5.45"/><circle cx="1551.42" cy="1969.51" r="5.45"/><circle cx="1538.42" cy="1970.67" r="5.45"/><circle cx="1543.62" cy="1975.53" r="5.45"/><circle cx="1551.42" cy="1977.16" r="5.45"/><circle cx="1535.82" cy="1979.06" r="5.45"/><circle cx="1543.62" cy="1990.77" r="5.45"/><circle cx="1543.62" cy="1852.01" r="5.45"/><circle cx="1546.43" cy="1862.9" r="5.45"/><circle cx="1541.51" cy="1877.66" r="5.45"/><circle cx="1542.92" cy="2007.63" r="5.45"/><circle cx="1546.43" cy="2009.39" r="5.45"/><circle cx="1605.8" cy="1850.26" r="5.45"/><circle cx="1613.6" cy="1852.83" r="5.45"/><circle cx="1600.6" cy="1855.73" r="5.45"/><circle cx="1592.8" cy="1856.27" r="5.45"/><circle cx="1605.8" cy="1861.91" r="5.45"/><circle cx="1613.6" cy="1862.05" r="5.45"/><circle cx="1598" cy="1862.16" r="5.45"/><circle cx="1621.4" cy="1862.38" r="5.45"/><circle cx="1590.2" cy="1865.16" r="5.45"/><circle cx="1614.8" cy="1865.62" r="5.45"/><circle cx="1596.8" cy="1866.54" r="5.45"/><circle cx="1618.8" cy="1867.2" r="5.45"/><circle cx="1600.8" cy="1867.21" r="5.45"/><circle cx="1608.4" cy="1868.81" r="5.45"/><circle cx="1596.8" cy="1869.84" r="5.45"/><circle cx="1603.2" cy="1873.81" r="5.45"/><circle cx="1613.6" cy="1874.55" r="5.45"/><circle cx="1592.8" cy="1875.86" r="5.45"/><circle cx="1621.4" cy="1876.12" r="5.45"/><circle cx="1605.8" cy="1882.05" r="5.45"/><circle cx="1600.6" cy="1887.27" r="5.45"/><circle cx="1611" cy="1887.77" r="5.45"/><circle cx="1605.8" cy="1892.68" r="5.45"/><circle cx="1598" cy="1893.96" r="5.45"/><circle cx="1611" cy="1897.68" r="5.45"/><circle cx="1605.8" cy="1825.32" r="5.45"/><circle cx="1605.8" cy="1916.65" r="5.45"/><circle cx="1605.8" cy="1958.1" r="5.45"/><circle cx="1604.39" cy="1979.18" r="5.45"/><circle cx="1607.2" cy="1979.18" r="5.45"/><circle cx="1667.97" cy="1952.13" r="5.45"/><circle cx="1667.97" cy="1963.35" r="5.45"/><circle cx="1675.77" cy="1963.36" r="5.45"/><circle cx="1662.77" cy="1969.03" r="5.45"/><circle cx="1670.57" cy="1969.2" r="5.45"/><circle cx="1678.37" cy="1972.08" r="5.45"/><circle cx="1657.57" cy="1974.28" r="5.45"/><circle cx="1654.97" cy="1974.48" r="5.45"/><circle cx="1667.97" cy="1978.83" r="5.45"/><circle cx="1675.77" cy="1979.43" r="5.45"/><circle cx="1665.37" cy="1984.96" r="5.45"/><circle cx="1673.17" cy="1986.72" r="5.45"/><circle cx="1667.97" cy="1993.04" r="5.45"/><circle cx="1675.77" cy="1994.19" r="5.45"/><circle cx="1660.17" cy="1995.38" r="5.45"/><circle cx="1683.57" cy="1995.71" r="5.45"/><circle cx="1667.97" cy="1999.46" r="5.45"/><circle cx="1654.97" cy="1999.54" r="5.45"/><circle cx="1678.37" cy="2000.3" r="5.45"/><circle cx="1672.97" cy="2002.94" r="5.45"/><circle cx="1662.77" cy="2004.75" r="5.45"/><circle cx="1678.37" cy="2006.94" r="5.45"/><circle cx="1667.97" cy="2019.34" r="5.45"/><circle cx="1660.17" cy="2020.29" r="5.45"/><circle cx="1675.77" cy="2021.68" r="5.45"/><circle cx="1683.57" cy="2023.03" r="5.45"/><circle cx="1652.37" cy="2023.88" r="5.45"/><circle cx="1670.57" cy="2025.46" r="5.45"/><circle cx="1665.37" cy="2031.24" r="5.45"/><circle cx="1673.17" cy="2032.92" r="5.45"/><circle cx="1730.5" cy="1952.13" r="5.45"/><circle cx="1738.3" cy="1955.77" r="5.45"/><circle cx="1730.5" cy="1959.01" r="5.45"/><circle cx="1722.7" cy="1961.02" r="5.45"/><circle cx="1738.3" cy="1962.4" r="5.45"/><circle cx="1714.9" cy="1962.82" r="5.45"/><circle cx="1730.5" cy="1966.62" r="5.45"/><circle cx="1722.7" cy="1967.52" r="5.45"/><circle cx="1743.5" cy="1968.24" r="5.45"/><circle cx="1714.9" cy="1969.25" r="5.45"/><circle cx="1735.7" cy="1971.52" r="5.45"/><circle cx="1727.9" cy="1972.77" r="5.45"/><circle cx="1720.1" cy="1976.03" r="5.45"/><circle cx="1740.9" cy="1976.66" r="5.45"/><circle cx="1730.5" cy="1981.53" r="5.45"/><circle cx="1714.9" cy="1981.67" r="5.45"/><circle cx="1722.7" cy="1982.27" r="5.45"/><circle cx="1738.3" cy="1983.87" r="5.45"/><circle cx="1746.1" cy="1986.45" r="5.45"/><circle cx="1727.9" cy="1987.66" r="5.45"/><circle cx="1717.5" cy="1988.08" r="5.45"/><circle cx="1717.5" cy="1988.65" r="5.45"/><circle cx="1717.5" cy="1989.29" r="5.45"/><circle cx="1733.1" cy="1991.98" r="5.45"/><circle cx="1740.9" cy="1992.28" r="5.45"/><circle cx="1727.9" cy="1997.8" r="5.45"/><circle cx="1730.5" cy="1934.56" r="5.45"/><circle cx="1735.77" cy="1949.32" r="5.45"/><circle cx="1729.45" cy="2010.09" r="5.45"/><circle cx="1732.26" cy="2010.09" r="5.45"/><circle cx="1792.68" cy="1966.18" r="5.45"/><circle cx="1792.68" cy="1972.64" r="5.45"/><circle cx="1784.88" cy="1975.07" r="5.45"/><circle cx="1792.68" cy="1982.95" r="5.45"/><circle cx="1784.88" cy="1986.07" r="5.45"/><circle cx="1797.88" cy="1987.52" r="5.45"/><circle cx="1790.08" cy="1991.22" r="5.45"/><circle cx="1792.68" cy="1997.78" r="5.45"/><circle cx="1800.48" cy="1998.27" r="5.45"/><circle cx="1784.88" cy="2000.16" r="5.45"/><circle cx="1808.28" cy="2001.32" r="5.45"/><circle cx="1777.08" cy="2001.85" r="5.45"/><circle cx="1783.68" cy="2002.54" r="5.45"/><circle cx="1792.68" cy="2006.52" r="5.45"/><circle cx="1792.68" cy="2013.39" r="5.45"/><circle cx="1800.48" cy="2016.32" r="5.45"/><circle cx="1787.48" cy="2017.19" r="5.45"/><circle cx="1779.68" cy="2017.56" r="5.45"/><circle cx="1808.28" cy="2018.29" r="5.45"/><circle cx="1779.68" cy="2019.13" r="5.45"/><circle cx="1801.68" cy="2019.59" r="5.45"/><circle cx="1792.68" cy="2019.72" r="5.45"/><circle cx="1779.68" cy="2021.88" r="5.45"/><circle cx="1795.28" cy="2025.94" r="5.45"/><circle cx="1792.68" cy="2031.86" r="5.45"/><circle cx="1800.48" cy="2033.74" r="5.45"/><circle cx="1784.88" cy="2034.15" r="5.45"/><circle cx="1808.28" cy="2034.81" r="5.45"/><circle cx="1792.68" cy="2046.98" r="5.45"/><circle cx="1793.03" cy="1943.7" r="5.45"/><circle cx="1854.86" cy="1989.01" r="5.45"/><circle cx="1860.06" cy="1993.56" r="5.45"/><circle cx="1849.66" cy="1993.94" r="5.45"/><circle cx="1841.86" cy="1994.47" r="5.45"/><circle cx="1867.86" cy="1994.92" r="5.45"/><circle cx="1863.86" cy="1995.57" r="5.45"/><circle cx="1849.86" cy="1996.87" r="5.45"/><circle cx="1867.86" cy="1997.85" r="5.45"/><circle cx="1841.86" cy="1999.31" r="5.45"/><circle cx="1857.46" cy="1999.78" r="5.45"/><circle cx="1849.86" cy="2001.43" r="5.45"/><circle cx="1867.86" cy="2001.82" r="5.45"/><circle cx="1854.86" cy="2002.31" r="5.45"/><circle cx="1867.86" cy="2004.03" r="5.45"/><circle cx="1845.86" cy="2004.22" r="5.45"/><circle cx="1839.26" cy="2006" r="5.45"/><circle cx="1867.86" cy="2006.02" r="5.45"/><circle cx="1860.06" cy="2007.41" r="5.45"/><circle cx="1852.26" cy="2008.42" r="5.45"/><circle cx="1859.86" cy="2009.53" r="5.45"/><circle cx="1844.46" cy="2011.91" r="5.45"/><circle cx="1854.86" cy="2014.67" r="5.45"/><circle cx="1865.26" cy="2014.84" r="5.45"/><circle cx="1849.86" cy="2015.54" r="5.45"/><circle cx="1839.26" cy="2017.64" r="5.45"/><circle cx="1857.46" cy="2020.63" r="5.45"/><circle cx="1858.02" cy="1972.5" r="5.45"/><circle cx="1855.21" cy="1976.72" r="5.45"/><circle cx="1853.45" cy="1980.93" r="5.45"/><circle cx="1846.43" cy="1990.77" r="5.45"/><circle cx="1917.38" cy="1987.26" r="5.45"/><circle cx="1925.18" cy="1987.59" r="5.45"/><circle cx="1909.58" cy="1989.6" r="5.45"/><circle cx="1901.78" cy="1990.37" r="5.45"/><circle cx="1930.38" cy="1991.79" r="5.45"/><circle cx="1919.98" cy="1993.12" r="5.45"/><circle cx="1917.38" cy="1993.56" r="5.45"/><circle cx="1926.38" cy="1994.37" r="5.45"/><circle cx="1906.98" cy="1995.84" r="5.45"/><circle cx="1908.38" cy="1995.99" r="5.45"/><circle cx="1932.98" cy="1998.12" r="5.45"/><circle cx="1917.38" cy="1998.97" r="5.45"/><circle cx="1922.38" cy="1999.13" r="5.45"/><circle cx="1901.78" cy="1999.86" r="5.45"/><circle cx="1922.38" cy="1999.88" r="5.45"/><circle cx="1912.38" cy="2001.61" r="5.45"/><circle cx="1930.38" cy="2002.37" r="5.45"/><circle cx="1912.38" cy="2003.97" r="5.45"/><circle cx="1904.38" cy="2004.71" r="5.45"/><circle cx="1930.38" cy="2004.92" r="5.45"/><circle cx="1904.38" cy="2005.29" r="5.45"/><circle cx="1919.98" cy="2006.82" r="5.45"/><circle cx="1930.38" cy="2006.88" r="5.45"/><circle cx="1914.78" cy="2010.8" r="5.45"/><circle cx="1925.18" cy="2012.38" r="5.45"/><circle cx="1909.58" cy="2015.36" r="5.45"/><circle cx="1917.38" cy="1960.21" r="5.45"/><circle cx="1917.38" cy="1971.45" r="5.45"/><circle cx="1919.14" cy="1974.96" r="5.45"/><circle cx="1914.93" cy="1981.99" r="5.45"/></g>
<g font-size="20.1" fill="#231815" text-anchor="end"><text x="171" y="2113.9">10</text><text x="171" y="2036.01">100</text><text x="171" y="1958.12">1000</text><text x="171" y="1880.24">10000</text><text x="171" y="1802.35">100000</text></g>
<g font-size="25" fill="#231815" text-anchor="middle"><text transform="translate(62 1957.12) rotate(-90)">Neutralization titer against</text><text font-size="24.6" transform="translate(90.2 1960.73) rotate(-90)">clade 2.3.4.4b</text></g>
<g stroke="#000" stroke-width="2.05"><rect x="214.41" y="2358.85" width="39.1" height="110.65" fill="#A8DEE2"/><rect x="276.58" y="2382.39" width="39.1" height="87.11" fill="#A8DEE2"/><rect x="338.76" y="2360.96" width="39.1" height="108.54" fill="#A8DEE2"/><rect x="400.94" y="2383.09" width="39.1" height="86.41" fill="#A8DEE2"/><rect x="463.11" y="2380.63" width="39.1" height="88.87" fill="#A8DEE2"/><rect x="525.64" y="2355.69" width="39.1" height="113.81" fill="#78B4DC"/><rect x="588.22" y="2369.74" width="39.1" height="99.76" fill="#78B4DC"/><rect x="650.4" y="2381.68" width="39.1" height="87.82" fill="#78B4DC"/><rect x="712.58" y="2374.66" width="39.1" height="94.84" fill="#4B8DCF"/><rect x="774.76" y="2368.33" width="39.1" height="101.17" fill="#4B8DCF"/><rect x="837.28" y="2363.07" width="39.1" height="106.43" fill="#4B8DCF"/><rect x="899.46" y="2351.47" width="39.1" height="118.03" fill="#4B8DCF"/><rect x="961.64" y="2362.36" width="39.1" height="107.14" fill="#3369B4"/><rect x="1023.82" y="2347.96" width="39.1" height="121.54" fill="#3369B4"/><rect x="1086.35" y="2339.88" width="39.1" height="129.62" fill="#3369B4"/><rect x="1148.6" y="2360.61" width="39.1" height="108.89" fill="#3369B4"/><rect x="1211.13" y="2368.33" width="39.1" height="101.17" fill="#2E4A9E"/><rect x="1273.3" y="2371.85" width="39.1" height="97.65" fill="#DD907C"/><rect x="1335.48" y="2365.88" width="39.1" height="103.62" fill="#DD907C"/><rect x="1397.96" y="2347.96" width="39.1" height="121.54" fill="#DD907C"/><rect x="1460.14" y="2353.58" width="39.1" height="115.92" fill="#DD907C"/><rect x="1522.31" y="2379.93" width="39.1" height="89.57" fill="#C2453A"/><rect x="1584.49" y="2353.58" width="39.1" height="115.92" fill="#C2453A"/><rect x="1647.02" y="2382.03" width="39.1" height="87.47" fill="#C2453A"/><rect x="1709.2" y="2242.57" width="39.1" height="226.93" fill="#80A595"/><rect x="1771.72" y="2262.95" width="39.1" height="206.55" fill="#80A595"/><rect x="1833.9" y="2335.67" width="39.1" height="133.83" fill="#80A595"/><rect x="1896.08" y="2326.88" width="39.1" height="142.62" fill="#80A595"/></g>
<path d="M191.1 2313.35H1946.5" stroke="#231815" stroke-width="1.8" stroke-dasharray="8.4 6.6" fill="none"/>
<path d="M192.2 2156.5V2470.2M179.4 2469.5H1960.6M179.4 2391.43H192.2M179.4 2313.35H192.2M179.4 2235.27H192.2M179.4 2157.2H192.2M233.96 2469.5v12M296.13 2469.5v12M358.31 2469.5v12M420.49 2469.5v12M482.66 2469.5v12M545.19 2469.5v12M607.77 2469.5v12M669.95 2469.5v12M732.13 2469.5v12M794.31 2469.5v12M856.83 2469.5v12M919.01 2469.5v12M981.19 2469.5v12M1043.37 2469.5v12M1105.9 2469.5v12M1168.15 2469.5v12M1230.68 2469.5v12M1292.85 2469.5v12M1355.03 2469.5v12M1417.51 2469.5v12M1479.69 2469.5v12M1541.86 2469.5v12M1604.04 2469.5v12M1666.57 2469.5v12M1728.75 2469.5v12M1791.27 2469.5v12M1853.45 2469.5v12M1915.63 2469.5v12" stroke="#000" stroke-width="2" fill="none"/>
<path d="M233.96 2328.99V2385.9M223.16 2328.99h21.6M223.16 2385.9h21.6M296.13 2364.12V2399.25M285.33 2364.12h21.6M285.33 2399.25h21.6M358.31 2338.12V2382.39M347.51 2338.12h21.6M347.51 2382.39h21.6M420.49 2368.33V2395.38M409.69 2368.33h21.6M409.69 2395.38h21.6M482.66 2362.71V2395.38M471.86 2362.71h21.6M471.86 2395.38h21.6M545.19 2337.77V2371.14M534.39 2337.77h21.6M534.39 2371.14h21.6M607.77 2351.12V2386.95M596.97 2351.12h21.6M596.97 2386.95h21.6M669.95 2363.42V2398.19M659.15 2363.42h21.6M659.15 2398.19h21.6M732.13 2350.07V2396.44M721.33 2350.07h21.6M721.33 2396.44h21.6M794.31 2347.96V2386.95M783.51 2347.96h21.6M783.51 2386.95h21.6M856.83 2345.15V2379.22M846.03 2345.15h21.6M846.03 2379.22h21.6M919.01 2329.69V2371.14M908.21 2329.69h21.6M908.21 2371.14h21.6M981.19 2339.53V2383.09M970.39 2339.53h21.6M970.39 2383.09h21.6M1043.37 2323.72V2369.39M1032.57 2323.72h21.6M1032.57 2369.39h21.6M1105.9 2314.59V2356.74M1095.1 2314.59h21.6M1095.1 2356.74h21.6M1168.15 2334.26V2384.84M1157.35 2334.26h21.6M1157.35 2384.84h21.6M1230.68 2352.53V2382.39M1219.88 2352.53h21.6M1219.88 2382.39h21.6M1292.85 2347.26V2392.22M1282.05 2347.26h21.6M1282.05 2392.22h21.6M1355.03 2335.67V2393.63M1344.23 2335.67h21.6M1344.23 2393.63h21.6M1417.51 2327.23V2366.93M1406.71 2327.23h21.6M1406.71 2366.93h21.6M1479.69 2308.62V2396.79M1468.89 2308.62h21.6M1468.89 2396.79h21.6M1541.86 2363.77V2392.92M1531.06 2363.77h21.6M1531.06 2392.92h21.6M1604.04 2336.72V2368.33M1593.24 2336.72h21.6M1593.24 2368.33h21.6M1666.57 2364.12V2398.19M1655.77 2364.12h21.6M1655.77 2398.19h21.6M1728.75 2197.96V2285.08M1717.95 2197.96h21.6M1717.95 2285.08h21.6M1791.27 2197.26V2326.88M1780.47 2197.26h21.6M1780.47 2326.88h21.6M1853.45 2301.94V2368.33M1842.65 2301.94h21.6M1842.65 2368.33h21.6M1915.63 2293.51V2358.85M1904.83 2293.51h21.6M1904.83 2358.85h21.6" stroke="#000" stroke-width="2.05" fill="none"/>
<g stroke="#000" stroke-width="2.05" fill="none"><circle cx="233.96" cy="2313.18" r="5.45"/><circle cx="233.96" cy="2335.31" r="5.45"/><circle cx="219.9" cy="2350.77" r="5.45"/><circle cx="247.66" cy="2344.1" r="5.45"/><circle cx="240.63" cy="2347.26" r="5.45"/><circle cx="227.63" cy="2355.69" r="5.45"/><circle cx="227.63" cy="2379.93" r="5.45"/><circle cx="238.87" cy="2387.66" r="5.45"/><circle cx="233.96" cy="2406.27" r="5.45"/><circle cx="292.62" cy="2351.12" r="5.45"/><circle cx="299.65" cy="2361.31" r="5.45"/><circle cx="299.65" cy="2370.44" r="5.45"/><circle cx="282.08" cy="2383.44" r="5.45"/><circle cx="292.62" cy="2381.68" r="5.45"/><circle cx="288.05" cy="2392.92" r="5.45"/><circle cx="296.13" cy="2395.73" r="5.45"/><circle cx="303.16" cy="2397.14" r="5.45"/><circle cx="310.18" cy="2399.95" r="5.45"/><circle cx="353.04" cy="2330.75" r="5.45"/><circle cx="362.88" cy="2333.21" r="5.45"/><circle cx="372.36" cy="2346.91" r="5.45"/><circle cx="362.88" cy="2353.23" r="5.45"/><circle cx="344.26" cy="2356.39" r="5.45"/><circle cx="353.04" cy="2360.61" r="5.45"/><circle cx="348.82" cy="2377.12" r="5.45"/><circle cx="358.31" cy="2390.82" r="5.45"/><circle cx="367.44" cy="2392.22" r="5.45"/><circle cx="415.92" cy="2362.36" r="5.45"/><circle cx="425.05" cy="2367.63" r="5.45"/><circle cx="434.54" cy="2372.2" r="5.45"/><circle cx="425.05" cy="2374.66" r="5.45"/><circle cx="406.44" cy="2382.39" r="5.45"/><circle cx="415.92" cy="2383.09" r="5.45"/><circle cx="411" cy="2393.63" r="5.45"/><circle cx="420.49" cy="2395.38" r="5.45"/><circle cx="429.97" cy="2403.46" r="5.45"/><circle cx="483.72" cy="2359.9" r="5.45"/><circle cx="488.28" cy="2365.88" r="5.45"/><circle cx="497.42" cy="2365.88" r="5.45"/><circle cx="468.26" cy="2375.01" r="5.45"/><circle cx="475.29" cy="2375.01" r="5.45"/><circle cx="483.72" cy="2373.25" r="5.45"/><circle cx="475.29" cy="2392.92" r="5.45"/><circle cx="483.72" cy="2401" r="5.45"/><circle cx="490.39" cy="2405.57" r="5.45"/><circle cx="545.54" cy="2331.45" r="5.45"/><circle cx="553.27" cy="2342.69" r="5.45"/><circle cx="560.3" cy="2343.74" r="5.45"/><circle cx="531.49" cy="2348.31" r="5.45"/><circle cx="545.19" cy="2347.26" r="5.45"/><circle cx="537.46" cy="2357.09" r="5.45"/><circle cx="537.46" cy="2368.33" r="5.45"/><circle cx="545.54" cy="2372.9" r="5.45"/><circle cx="552.57" cy="2381.68" r="5.45"/><circle cx="607.77" cy="2339.88" r="5.45"/><circle cx="612.69" cy="2353.23" r="5.45"/><circle cx="621.83" cy="2358.85" r="5.45"/><circle cx="602.86" cy="2361.31" r="5.45"/><circle cx="593.72" cy="2366.58" r="5.45"/><circle cx="593.72" cy="2377.82" r="5.45"/><circle cx="602.86" cy="2381.68" r="5.45"/><circle cx="611.99" cy="2390.11" r="5.45"/><circle cx="621.83" cy="2391.52" r="5.45"/><circle cx="666.44" cy="2354.99" r="5.45"/><circle cx="674.52" cy="2362.01" r="5.45"/><circle cx="680.49" cy="2365.88" r="5.45"/><circle cx="659.41" cy="2370.09" r="5.45"/><circle cx="654.85" cy="2385.9" r="5.45"/><circle cx="662.93" cy="2391.87" r="5.45"/><circle cx="669.95" cy="2393.63" r="5.45"/><circle cx="677.68" cy="2397.14" r="5.45"/><circle cx="684" cy="2400.65" r="5.45"/><circle cx="732.48" cy="2334.26" r="5.45"/><circle cx="725.1" cy="2353.58" r="5.45"/><circle cx="739.15" cy="2357.8" r="5.45"/><circle cx="746.18" cy="2363.42" r="5.45"/><circle cx="718.78" cy="2377.82" r="5.45"/><circle cx="732.48" cy="2378.87" r="5.45"/><circle cx="718.78" cy="2392.92" r="5.45"/><circle cx="732.48" cy="2395.38" r="5.45"/><circle cx="746.18" cy="2407.68" r="5.45"/><circle cx="789.74" cy="2330.04" r="5.45"/><circle cx="798.87" cy="2343.04" r="5.45"/><circle cx="794.31" cy="2364.82" r="5.45"/><circle cx="804.14" cy="2364.82" r="5.45"/><circle cx="784.82" cy="2372.2" r="5.45"/><circle cx="780.26" cy="2379.58" r="5.45"/><circle cx="789.74" cy="2379.58" r="5.45"/><circle cx="798.87" cy="2382.39" r="5.45"/><circle cx="808.36" cy="2390.11" r="5.45"/><circle cx="857.19" cy="2329.34" r="5.45"/><circle cx="863.86" cy="2353.23" r="5.45"/><circle cx="870.89" cy="2357.8" r="5.45"/><circle cx="842.08" cy="2360.26" r="5.45"/><circle cx="849.46" cy="2360.26" r="5.45"/><circle cx="857.19" cy="2358.85" r="5.45"/><circle cx="849.46" cy="2374.31" r="5.45"/><circle cx="857.19" cy="2377.82" r="5.45"/><circle cx="864.21" cy="2389.41" r="5.45"/><circle cx="911.99" cy="2321.26" r="5.45"/><circle cx="920.07" cy="2323.37" r="5.45"/><circle cx="926.39" cy="2334.96" r="5.45"/><circle cx="905.31" cy="2354.63" r="5.45"/><circle cx="912.34" cy="2355.34" r="5.45"/><circle cx="919.36" cy="2355.34" r="5.45"/><circle cx="927.09" cy="2353.58" r="5.45"/><circle cx="934.12" cy="2363.07" r="5.45"/><circle cx="919.01" cy="2388.71" r="5.45"/><circle cx="978.03" cy="2319.15" r="5.45"/><circle cx="985.05" cy="2332.5" r="5.45"/><circle cx="985.05" cy="2359.55" r="5.45"/><circle cx="978.03" cy="2362.01" r="5.45"/><circle cx="966.44" cy="2369.04" r="5.45"/><circle cx="973.46" cy="2371.85" r="5.45"/><circle cx="980.49" cy="2378.87" r="5.45"/><circle cx="987.51" cy="2379.58" r="5.45"/><circle cx="994.54" cy="2384.14" r="5.45"/><circle cx="1044.07" cy="2304.05" r="5.45"/><circle cx="1044.07" cy="2327.94" r="5.45"/><circle cx="1057.77" cy="2339.53" r="5.45"/><circle cx="1030.02" cy="2344.45" r="5.45"/><circle cx="1044.07" cy="2342.69" r="5.45"/><circle cx="1044.07" cy="2359.55" r="5.45"/><circle cx="1037.04" cy="2357.09" r="5.45"/><circle cx="1057.77" cy="2363.07" r="5.45"/><circle cx="1044.07" cy="2386.6" r="5.45"/><circle cx="1101.33" cy="2321.26" r="5.45"/><circle cx="1110.46" cy="2321.26" r="5.45"/><circle cx="1092.2" cy="2326.18" r="5.45"/><circle cx="1120.3" cy="2326.53" r="5.45"/><circle cx="1096.76" cy="2335.67" r="5.45"/><circle cx="1105.9" cy="2341.29" r="5.45"/><circle cx="1115.03" cy="2349.72" r="5.45"/><circle cx="1101.33" cy="2361.31" r="5.45"/><circle cx="1110.46" cy="2370.09" r="5.45"/><circle cx="1168.5" cy="2314.59" r="5.45"/><circle cx="1173.07" cy="2341.99" r="5.45"/><circle cx="1182.2" cy="2347.26" r="5.45"/><circle cx="1154.45" cy="2352.53" r="5.45"/><circle cx="1163.58" cy="2352.53" r="5.45"/><circle cx="1163.58" cy="2364.82" r="5.45"/><circle cx="1173.07" cy="2379.93" r="5.45"/><circle cx="1163.58" cy="2386.95" r="5.45"/><circle cx="1173.07" cy="2396.44" r="5.45"/><circle cx="1226.46" cy="2347.26" r="5.45"/><circle cx="1235.6" cy="2350.07" r="5.45"/><circle cx="1244.73" cy="2361.31" r="5.45"/><circle cx="1216.98" cy="2362.71" r="5.45"/><circle cx="1216.98" cy="2369.39" r="5.45"/><circle cx="1226.46" cy="2370.79" r="5.45"/><circle cx="1235.6" cy="2371.85" r="5.45"/><circle cx="1244.73" cy="2380.28" r="5.45"/><circle cx="1230.68" cy="2396.44" r="5.45"/><circle cx="1292.85" cy="2319.51" r="5.45"/><circle cx="1287.94" cy="2358.85" r="5.45"/><circle cx="1299.53" cy="2361.31" r="5.45"/><circle cx="1306.55" cy="2370.44" r="5.45"/><circle cx="1279.15" cy="2372.9" r="5.45"/><circle cx="1292.85" cy="2377.82" r="5.45"/><circle cx="1279.15" cy="2391.87" r="5.45"/><circle cx="1292.85" cy="2395.38" r="5.45"/><circle cx="1306.55" cy="2393.63" r="5.45"/><circle cx="1355.38" cy="2319.51" r="5.45"/><circle cx="1355.38" cy="2334.96" r="5.45"/><circle cx="1345.9" cy="2349.72" r="5.45"/><circle cx="1364.52" cy="2344.8" r="5.45"/><circle cx="1341.33" cy="2376.06" r="5.45"/><circle cx="1350.47" cy="2377.82" r="5.45"/><circle cx="1359.95" cy="2383.44" r="5.45"/><circle cx="1369.08" cy="2389.41" r="5.45"/><circle cx="1355.38" cy="2409.79" r="5.45"/><circle cx="1417.51" cy="2320.21" r="5.45"/><circle cx="1417.51" cy="2323.72" r="5.45"/><circle cx="1426.64" cy="2339.18" r="5.45"/><circle cx="1408.02" cy="2339.18" r="5.45"/><circle cx="1403.46" cy="2344.8" r="5.45"/><circle cx="1412.59" cy="2351.82" r="5.45"/><circle cx="1422.07" cy="2358.85" r="5.45"/><circle cx="1431.21" cy="2358.85" r="5.45"/><circle cx="1417.51" cy="2387.66" r="5.45"/><circle cx="1479.69" cy="2243.98" r="5.45"/><circle cx="1479.69" cy="2334.96" r="5.45"/><circle cx="1493.39" cy="2355.34" r="5.45"/><circle cx="1465.99" cy="2360.26" r="5.45"/><circle cx="1484.25" cy="2360.26" r="5.45"/><circle cx="1475.12" cy="2370.79" r="5.45"/><circle cx="1470.55" cy="2377.12" r="5.45"/><circle cx="1479.69" cy="2381.68" r="5.45"/><circle cx="1489.17" cy="2392.22" r="5.45"/><circle cx="1535.54" cy="2359.2" r="5.45"/><circle cx="1542.56" cy="2363.07" r="5.45"/><circle cx="1549.59" cy="2367.63" r="5.45"/><circle cx="1549.59" cy="2377.12" r="5.45"/><circle cx="1528.51" cy="2378.87" r="5.45"/><circle cx="1535.54" cy="2384.84" r="5.45"/><circle cx="1546.08" cy="2386.95" r="5.45"/><circle cx="1555.56" cy="2388.71" r="5.45"/><circle cx="1541.86" cy="2405.22" r="5.45"/><circle cx="1604.39" cy="2320.56" r="5.45"/><circle cx="1604.39" cy="2339.53" r="5.45"/><circle cx="1618.09" cy="2349.37" r="5.45"/><circle cx="1590.34" cy="2354.28" r="5.45"/><circle cx="1608.96" cy="2355.34" r="5.45"/><circle cx="1595.26" cy="2363.07" r="5.45"/><circle cx="1604.39" cy="2363.77" r="5.45"/><circle cx="1613.52" cy="2366.58" r="5.45"/><circle cx="1613.52" cy="2375.36" r="5.45"/><circle cx="1666.57" cy="2341.99" r="5.45"/><circle cx="1666.57" cy="2370.09" r="5.45"/><circle cx="1676.05" cy="2379.58" r="5.45"/><circle cx="1662" cy="2382.39" r="5.45"/><circle cx="1652.52" cy="2389.41" r="5.45"/><circle cx="1657.43" cy="2390.11" r="5.45"/><circle cx="1666.57" cy="2392.22" r="5.45"/><circle cx="1673.59" cy="2392.92" r="5.45"/><circle cx="1680.62" cy="2393.63" r="5.45"/><circle cx="1724.18" cy="2177.94" r="5.45"/><circle cx="1733.31" cy="2185.67" r="5.45"/><circle cx="1728.75" cy="2226.77" r="5.45"/><circle cx="1742.8" cy="2234.85" r="5.45"/><circle cx="1714.69" cy="2244.68" r="5.45"/><circle cx="1724.18" cy="2249.95" r="5.45"/><circle cx="1733.31" cy="2250.65" r="5.45"/><circle cx="1724.18" cy="2298.08" r="5.45"/><circle cx="1733.31" cy="2310.02" r="5.45"/><circle cx="1791.63" cy="2188.13" r="5.45"/><circle cx="1796.19" cy="2223.61" r="5.45"/><circle cx="1777.22" cy="2233.79" r="5.45"/><circle cx="1786.71" cy="2233.09" r="5.45"/><circle cx="1805.33" cy="2231.33" r="5.45"/><circle cx="1786.71" cy="2252.41" r="5.45"/><circle cx="1796.19" cy="2255.22" r="5.45"/><circle cx="1791.63" cy="2361.31" r="5.45"/><circle cx="1791.63" cy="2381.33" r="5.45"/><circle cx="1853.45" cy="2268.92" r="5.45"/><circle cx="1853.45" cy="2299.83" r="5.45"/><circle cx="1853.45" cy="2321.26" r="5.45"/><circle cx="1858.02" cy="2334.26" r="5.45"/><circle cx="1848.88" cy="2349.01" r="5.45"/><circle cx="1839.4" cy="2356.04" r="5.45"/><circle cx="1848.88" cy="2361.31" r="5.45"/><circle cx="1858.02" cy="2362.36" r="5.45"/><circle cx="1867.5" cy="2367.28" r="5.45"/><circle cx="1916.33" cy="2261.9" r="5.45"/><circle cx="1909.31" cy="2302.64" r="5.45"/><circle cx="1923.01" cy="2312.13" r="5.45"/><circle cx="1930.03" cy="2321.26" r="5.45"/><circle cx="1902.28" cy="2325.13" r="5.45"/><circle cx="1916.33" cy="2334.96" r="5.45"/><circle cx="1902.28" cy="2353.58" r="5.45"/><circle cx="1916.33" cy="2357.8" r="5.45"/><circle cx="1930.03" cy="2369.04" r="5.45"/></g>
<g font-size="20.1" fill="#231815" text-anchor="end"><text x="169.9" y="2477.1">10</text><text x="169.9" y="2399.03">100</text><text x="169.9" y="2320.95">1000</text><text x="169.9" y="2242.87">10000</text><text x="169.9" y="2164.8">100000</text></g>
<g font-size="25" fill="#231815" text-anchor="middle"><text transform="translate(62 2314.35) rotate(-90)">Neutralization titer against</text><text font-size="25" transform="translate(90.2 2314.15) rotate(-90)">clade 2.3.4.4h</text></g>
<g font-size="19.3" fill="#231815" text-anchor="middle"><text x="234" y="2507.1">VI04</text><text x="301" y="2507.1">GY06</text><text x="360" y="2507.1">CA07</text><text x="416.3" y="2507.1">VI08</text><text x="476" y="2507.1">CA13</text><text x="541" y="2507.1">HN02</text><text x="602.2" y="2507.1">IN05</text><text x="669.6" y="2507.1">IN11</text><text x="726.2" y="2507.1">IN06</text><text x="787.6" y="2507.1">EG08</text><text x="848" y="2507.1">EG10</text><text x="913.7" y="2507.1">EG14</text><text x="979.1" y="2507.1">HK07</text><text x="1043.7" y="2507.1">HK10</text><text x="1104.5" y="2507.1">VI12</text><text x="1169.6" y="2507.1">BA18</text><text x="1233.5" y="2507.1">HK08</text><text x="1293.2" y="2507.1">SI14</text><text x="1352.2" y="2507.1">AS20</text><text x="1416.9" y="2507.1">CR21</text><text x="1475.9" y="2507.1">TE24</text><text x="1540.9" y="2507.1">WA14</text><text x="1607.6" y="2507.1">HY16</text><text x="1668" y="2507.1">VI20</text><text x="1729.4" y="2507.1">GX17</text><text x="1794.8" y="2507.1">GD18</text><text x="1858.7" y="2507.1">FJ19</text><text x="1920.9" y="2507.1">GX21</text><text x="1087" y="2532.6" font-size="20">serum</text></g>
</svg>
</body></html>
